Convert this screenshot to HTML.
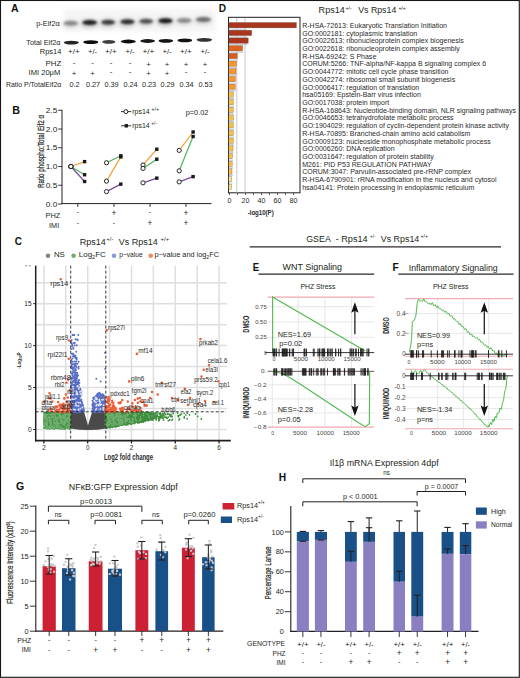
<!DOCTYPE html>
<html><head><meta charset="utf-8"><style>
html,body{margin:0;padding:0;background:#fff;overflow:hidden;}
svg{display:block;}
text{font-family:"Liberation Sans", sans-serif;}
</style></head><body>
<svg width="520" height="678" viewBox="0 0 520 678">
<defs>
<filter id="blur1" x="-50%" y="-200%" width="200%" height="500%"><feGaussianBlur stdDeviation="1.2"/></filter>
<filter id="blur2" x="-50%" y="-200%" width="200%" height="500%"><feGaussianBlur stdDeviation="2.2"/></filter>
<filter id="blur05"><feGaussianBlur stdDeviation="0.5"/></filter>
</defs>
<rect x="0" y="0" width="520" height="678" fill="#fff"/>
<text x="11" y="12.3" font-size="11" font-weight="bold" textLength="7.6" lengthAdjust="spacingAndGlyphs" fill="#111">A</text>
<rect x="64" y="9" width="152" height="23" fill="#ededed" filter="url(#blur2)" opacity="0.55"/>
<ellipse cx="70.25" cy="24.0" rx="8.75" ry="4.2" fill="#000" opacity="0.10" filter="url(#blur2)"/>
<ellipse cx="70.75" cy="23.2" rx="7.25" ry="2.5" fill="#000" opacity="0.36" filter="url(#blur1)"/>
<ellipse cx="89.25" cy="23.400000000000002" rx="8.75" ry="4.2" fill="#000" opacity="0.24" filter="url(#blur2)"/>
<ellipse cx="89.75" cy="22.6" rx="7.25" ry="2.5" fill="#000" opacity="0.82" filter="url(#blur1)"/>
<ellipse cx="107.75" cy="23.0" rx="8.25" ry="4.2" fill="#000" opacity="0.20" filter="url(#blur2)"/>
<ellipse cx="108.25" cy="22.2" rx="6.75" ry="2.5" fill="#000" opacity="0.68" filter="url(#blur1)"/>
<ellipse cx="127.0" cy="22.6" rx="8.5" ry="4.2" fill="#000" opacity="0.22" filter="url(#blur2)"/>
<ellipse cx="127.5" cy="21.8" rx="7.0" ry="2.5" fill="#000" opacity="0.75" filter="url(#blur1)"/>
<ellipse cx="145.75" cy="22.1" rx="8.25" ry="4.2" fill="#000" opacity="0.17" filter="url(#blur2)"/>
<ellipse cx="146.25" cy="21.3" rx="6.75" ry="2.5" fill="#000" opacity="0.59" filter="url(#blur1)"/>
<ellipse cx="165.0" cy="21.6" rx="8.5" ry="4.2" fill="#000" opacity="0.25" filter="url(#blur2)"/>
<ellipse cx="165.5" cy="20.8" rx="7.0" ry="2.5" fill="#000" opacity="0.85" filter="url(#blur1)"/>
<ellipse cx="183.75" cy="21.3" rx="8.75" ry="4.2" fill="#000" opacity="0.10" filter="url(#blur2)"/>
<ellipse cx="184.25" cy="20.5" rx="7.25" ry="2.5" fill="#000" opacity="0.36" filter="url(#blur1)"/>
<ellipse cx="203.0" cy="20.400000000000002" rx="9.0" ry="4.2" fill="#000" opacity="0.14" filter="url(#blur2)"/>
<ellipse cx="203.5" cy="19.6" rx="7.5" ry="2.5" fill="#000" opacity="0.47" filter="url(#blur1)"/>
<ellipse cx="71.3" cy="42.6" rx="7.5" ry="1.9" fill="#000" opacity="0.85" filter="url(#blur05)"/>
<ellipse cx="90.8" cy="42.2" rx="7.5" ry="1.9" fill="#000" opacity="0.95" filter="url(#blur05)"/>
<ellipse cx="108.8" cy="41.9" rx="6.5" ry="1.9" fill="#000" opacity="0.75" filter="url(#blur05)"/>
<ellipse cx="128.3" cy="41.5" rx="7.5" ry="1.9" fill="#000" opacity="0.95" filter="url(#blur05)"/>
<ellipse cx="147.65" cy="41" rx="7.349999999999994" ry="1.9" fill="#000" opacity="0.9" filter="url(#blur05)"/>
<ellipse cx="165.85000000000002" cy="40.8" rx="7.3500000000000085" ry="1.9" fill="#000" opacity="0.92" filter="url(#blur05)"/>
<ellipse cx="184.85000000000002" cy="40.4" rx="7.3500000000000085" ry="1.9" fill="#000" opacity="0.92" filter="url(#blur05)"/>
<ellipse cx="204.35000000000002" cy="39.8" rx="7.75" ry="1.9" fill="#000" opacity="0.8" filter="url(#blur05)"/>
<text x="59.8" y="26.2" font-size="7.4" text-anchor="end" textLength="23.6" lengthAdjust="spacingAndGlyphs" fill="#231f20">p-Eif2α</text>
<text x="60.4" y="44.6" font-size="7.3" text-anchor="end" textLength="34.1" lengthAdjust="spacingAndGlyphs" fill="#231f20">Total Eif2α</text>
<text x="61.3" y="53.9" font-size="7.3" text-anchor="end" textLength="21.5" lengthAdjust="spacingAndGlyphs" fill="#231f20">Rps14</text>
<text x="61.3" y="65.7" font-size="7.6" text-anchor="end" textLength="15.8" lengthAdjust="spacingAndGlyphs" fill="#231f20">PHZ</text>
<text x="60.3" y="74.6" font-size="7.3" text-anchor="end" textLength="31.7" lengthAdjust="spacingAndGlyphs" fill="#231f20">IMI 20μM</text>
<text x="61.3" y="87.3" font-size="7.1" text-anchor="end" textLength="55.4" lengthAdjust="spacingAndGlyphs" fill="#231f20">Ratio P/TotalEif2α</text>
<text x="74" y="54.2" font-size="7.6" text-anchor="middle" textLength="11.8" lengthAdjust="spacingAndGlyphs" fill="#231f20">+/+</text>
<text x="74" y="65.0" font-size="7.8" text-anchor="middle" fill="#231f20">-</text>
<text x="74" y="75.8" font-size="7.8" text-anchor="middle" fill="#231f20">+</text>
<text x="74.5" y="87.4" font-size="7.3" text-anchor="middle" fill="#231f20">0.2</text>
<text x="92.5" y="54.2" font-size="7.6" text-anchor="middle" textLength="9.2" lengthAdjust="spacingAndGlyphs" fill="#231f20">+/-</text>
<text x="92.5" y="65.0" font-size="7.8" text-anchor="middle" fill="#231f20">-</text>
<text x="92.5" y="75.8" font-size="7.8" text-anchor="middle" fill="#231f20">+</text>
<text x="93.0" y="87.4" font-size="7.3" text-anchor="middle" fill="#231f20">0.27</text>
<text x="111" y="54.2" font-size="7.6" text-anchor="middle" textLength="11.8" lengthAdjust="spacingAndGlyphs" fill="#231f20">+/+</text>
<text x="111" y="65.0" font-size="7.8" text-anchor="middle" fill="#231f20">-</text>
<text x="111" y="74.2" font-size="7.8" text-anchor="middle" fill="#231f20">-</text>
<text x="111.5" y="87.4" font-size="7.3" text-anchor="middle" fill="#231f20">0.39</text>
<text x="130" y="54.2" font-size="7.6" text-anchor="middle" textLength="9.2" lengthAdjust="spacingAndGlyphs" fill="#231f20">+/-</text>
<text x="130" y="65.0" font-size="7.8" text-anchor="middle" fill="#231f20">-</text>
<text x="130" y="74.2" font-size="7.8" text-anchor="middle" fill="#231f20">-</text>
<text x="130.5" y="87.4" font-size="7.3" text-anchor="middle" fill="#231f20">0.24</text>
<text x="148.5" y="54.2" font-size="7.6" text-anchor="middle" textLength="11.8" lengthAdjust="spacingAndGlyphs" fill="#231f20">+/+</text>
<text x="148.5" y="66.6" font-size="7.8" text-anchor="middle" fill="#231f20">+</text>
<text x="148.5" y="75.8" font-size="7.8" text-anchor="middle" fill="#231f20">+</text>
<text x="149.0" y="87.4" font-size="7.3" text-anchor="middle" fill="#231f20">0.23</text>
<text x="167" y="54.2" font-size="7.6" text-anchor="middle" textLength="9.2" lengthAdjust="spacingAndGlyphs" fill="#231f20">+/-</text>
<text x="167" y="66.6" font-size="7.8" text-anchor="middle" fill="#231f20">+</text>
<text x="167" y="75.8" font-size="7.8" text-anchor="middle" fill="#231f20">+</text>
<text x="167.5" y="87.4" font-size="7.3" text-anchor="middle" fill="#231f20">0.29</text>
<text x="186" y="54.2" font-size="7.6" text-anchor="middle" textLength="11.8" lengthAdjust="spacingAndGlyphs" fill="#231f20">+/+</text>
<text x="186" y="66.6" font-size="7.8" text-anchor="middle" fill="#231f20">+</text>
<text x="186" y="74.2" font-size="7.8" text-anchor="middle" fill="#231f20">-</text>
<text x="186.5" y="87.4" font-size="7.3" text-anchor="middle" fill="#231f20">0.34</text>
<text x="205" y="54.2" font-size="7.6" text-anchor="middle" textLength="9.2" lengthAdjust="spacingAndGlyphs" fill="#231f20">+/-</text>
<text x="205" y="66.6" font-size="7.8" text-anchor="middle" fill="#231f20">+</text>
<text x="205" y="74.2" font-size="7.8" text-anchor="middle" fill="#231f20">-</text>
<text x="205.5" y="87.4" font-size="7.3" text-anchor="middle" fill="#231f20">0.53</text>
<text x="12.3" y="113.6" font-size="10.5" font-weight="bold" textLength="7.8" lengthAdjust="spacingAndGlyphs" fill="#111">B</text>
<line x1="62" y1="109.8" x2="62" y2="204" stroke="#231f20" stroke-width="1"/>
<line x1="61.5" y1="203.6" x2="211.5" y2="203.6" stroke="#231f20" stroke-width="1"/>
<line x1="58.2" y1="204.0" x2="62" y2="204.0" stroke="#231f20" stroke-width="0.9"/>
<text x="57.3" y="206.5" font-size="7" text-anchor="end" textLength="11.6" lengthAdjust="spacingAndGlyphs" fill="#231f20">0.0</text>
<line x1="58.2" y1="185.25" x2="62" y2="185.25" stroke="#231f20" stroke-width="0.9"/>
<text x="57.3" y="187.75" font-size="7" text-anchor="end" textLength="11.6" lengthAdjust="spacingAndGlyphs" fill="#231f20">0.5</text>
<line x1="58.2" y1="166.5" x2="62" y2="166.5" stroke="#231f20" stroke-width="0.9"/>
<text x="57.3" y="169.0" font-size="7" text-anchor="end" textLength="11.6" lengthAdjust="spacingAndGlyphs" fill="#231f20">1.0</text>
<line x1="58.2" y1="147.75" x2="62" y2="147.75" stroke="#231f20" stroke-width="0.9"/>
<text x="57.3" y="150.25" font-size="7" text-anchor="end" textLength="11.6" lengthAdjust="spacingAndGlyphs" fill="#231f20">1.5</text>
<line x1="58.2" y1="129.0" x2="62" y2="129.0" stroke="#231f20" stroke-width="0.9"/>
<text x="57.3" y="131.5" font-size="7" text-anchor="end" textLength="11.6" lengthAdjust="spacingAndGlyphs" fill="#231f20">2.0</text>
<line x1="58.2" y1="110.25" x2="62" y2="110.25" stroke="#231f20" stroke-width="0.9"/>
<text x="57.3" y="112.75" font-size="7" text-anchor="end" textLength="11.6" lengthAdjust="spacingAndGlyphs" fill="#231f20">2.5</text>
<line x1="77.8" y1="203.6" x2="77.8" y2="207" stroke="#231f20" stroke-width="0.9"/>
<line x1="114" y1="203.6" x2="114" y2="207" stroke="#231f20" stroke-width="0.9"/>
<line x1="150" y1="203.6" x2="150" y2="207" stroke="#231f20" stroke-width="0.9"/>
<line x1="186" y1="203.6" x2="186" y2="207" stroke="#231f20" stroke-width="0.9"/>
<text transform="translate(43.6,151.5) rotate(-90)" font-size="8.6" text-anchor="middle" fill="#231f20" stroke="#231f20" stroke-width="0.2" textLength="73" lengthAdjust="spacingAndGlyphs">Ratio phospho:Total Eif2 α</text>
<line x1="70.9" y1="166.5" x2="84.6" y2="161.62" stroke="#f5a03a" stroke-width="1.2"/>
<line x1="70.9" y1="166.5" x2="84.6" y2="174.75" stroke="#4fb35a" stroke-width="1.2"/>
<line x1="70.9" y1="166.5" x2="84.6" y2="181.5" stroke="#7a4a9e" stroke-width="1.2"/>
<line x1="106.5" y1="181.12" x2="120.8" y2="156.9" stroke="#f5a03a" stroke-width="1.2"/>
<line x1="106.5" y1="162.75" x2="120.8" y2="155.81" stroke="#4fb35a" stroke-width="1.2"/>
<line x1="106.5" y1="191.62" x2="120.8" y2="184.12" stroke="#7a4a9e" stroke-width="1.2"/>
<line x1="143" y1="165.0" x2="156.8" y2="149.25" stroke="#f5a03a" stroke-width="1.2"/>
<line x1="143" y1="168.38" x2="156.8" y2="159.19" stroke="#4fb35a" stroke-width="1.2"/>
<line x1="143" y1="182.81" x2="156.8" y2="178.12" stroke="#7a4a9e" stroke-width="1.2"/>
<line x1="179.2" y1="150.38" x2="193.1" y2="132.0" stroke="#f5a03a" stroke-width="1.2"/>
<line x1="179.2" y1="170.81" x2="193.1" y2="136.5" stroke="#4fb35a" stroke-width="1.2"/>
<line x1="179.2" y1="181.88" x2="193.1" y2="176.62" stroke="#7a4a9e" stroke-width="1.2"/>
<circle cx="70.9" cy="166.50" r="2.1" fill="#fff" stroke="#1a1a1a" stroke-width="0.95"/>
<rect x="82.89999999999999" y="159.93" width="3.4" height="3.4" fill="#1a1a1a"/>
<circle cx="70.9" cy="166.50" r="2.1" fill="#fff" stroke="#1a1a1a" stroke-width="0.95"/>
<rect x="82.89999999999999" y="173.05" width="3.4" height="3.4" fill="#1a1a1a"/>
<circle cx="70.9" cy="166.50" r="2.1" fill="#fff" stroke="#1a1a1a" stroke-width="0.95"/>
<rect x="82.89999999999999" y="179.80" width="3.4" height="3.4" fill="#1a1a1a"/>
<circle cx="106.5" cy="181.12" r="2.1" fill="#fff" stroke="#1a1a1a" stroke-width="0.95"/>
<rect x="119.1" y="155.20" width="3.4" height="3.4" fill="#1a1a1a"/>
<circle cx="106.5" cy="162.75" r="2.1" fill="#fff" stroke="#1a1a1a" stroke-width="0.95"/>
<rect x="119.1" y="154.11" width="3.4" height="3.4" fill="#1a1a1a"/>
<circle cx="106.5" cy="191.62" r="2.1" fill="#fff" stroke="#1a1a1a" stroke-width="0.95"/>
<rect x="119.1" y="182.43" width="3.4" height="3.4" fill="#1a1a1a"/>
<circle cx="143" cy="165.00" r="2.1" fill="#fff" stroke="#1a1a1a" stroke-width="0.95"/>
<rect x="155.10000000000002" y="147.55" width="3.4" height="3.4" fill="#1a1a1a"/>
<circle cx="143" cy="168.38" r="2.1" fill="#fff" stroke="#1a1a1a" stroke-width="0.95"/>
<rect x="155.10000000000002" y="157.49" width="3.4" height="3.4" fill="#1a1a1a"/>
<circle cx="143" cy="182.81" r="2.1" fill="#fff" stroke="#1a1a1a" stroke-width="0.95"/>
<rect x="155.10000000000002" y="176.43" width="3.4" height="3.4" fill="#1a1a1a"/>
<circle cx="179.2" cy="150.38" r="2.1" fill="#fff" stroke="#1a1a1a" stroke-width="0.95"/>
<rect x="191.4" y="130.30" width="3.4" height="3.4" fill="#1a1a1a"/>
<circle cx="179.2" cy="170.81" r="2.1" fill="#fff" stroke="#1a1a1a" stroke-width="0.95"/>
<rect x="191.4" y="134.80" width="3.4" height="3.4" fill="#1a1a1a"/>
<circle cx="179.2" cy="181.88" r="2.1" fill="#fff" stroke="#1a1a1a" stroke-width="0.95"/>
<rect x="191.4" y="174.93" width="3.4" height="3.4" fill="#1a1a1a"/>
<line x1="121" y1="111.6" x2="131.2" y2="111.6" stroke="#231f20" stroke-width="0.9"/>
<circle cx="125.9" cy="111.6" r="2.0" fill="#fff" stroke="#1a1a1a" stroke-width="0.95"/>
<text x="132.2" y="114" font-size="7" textLength="17.6" lengthAdjust="spacingAndGlyphs" fill="#231f20">rps14</text>
<text x="151.3" y="110.8" font-size="4.5" textLength="7.7" lengthAdjust="spacingAndGlyphs" fill="#231f20">+/+</text>
<line x1="121" y1="125.8" x2="131.2" y2="125.8" stroke="#231f20" stroke-width="0.9"/>
<rect x="124.6" y="124.1" width="3.4" height="3.4" fill="#1a1a1a"/>
<text x="132.2" y="128.2" font-size="7" textLength="17.6" lengthAdjust="spacingAndGlyphs" fill="#231f20">rps14</text>
<text x="151.3" y="124.8" font-size="4.5" textLength="5.7" lengthAdjust="spacingAndGlyphs" fill="#231f20">+/-</text>
<text x="185.7" y="114.6" font-size="7" textLength="22.7" lengthAdjust="spacingAndGlyphs" fill="#231f20">p=0.02</text>
<text x="60.3" y="218" font-size="7" text-anchor="end" textLength="14.8" lengthAdjust="spacingAndGlyphs" fill="#231f20">PHZ</text>
<text x="59.2" y="227.6" font-size="7" text-anchor="end" textLength="10.2" lengthAdjust="spacingAndGlyphs" fill="#231f20">IMI</text>
<text x="77.8" y="214.4" font-size="7" text-anchor="middle" fill="#231f20">-</text>
<text x="77.8" y="224.6" font-size="7" text-anchor="middle" fill="#231f20">-</text>
<text x="114" y="215.8" font-size="8.2" text-anchor="middle" fill="#231f20">+</text>
<text x="114" y="224.6" font-size="7" text-anchor="middle" fill="#231f20">-</text>
<text x="150" y="214.4" font-size="7" text-anchor="middle" fill="#231f20">-</text>
<text x="150" y="226.0" font-size="8.2" text-anchor="middle" fill="#231f20">+</text>
<text x="186" y="215.8" font-size="8.2" text-anchor="middle" fill="#231f20">+</text>
<text x="186" y="226.0" font-size="8.2" text-anchor="middle" fill="#231f20">+</text>
<text x="14.8" y="244.6" font-size="11.4" font-weight="bold" textLength="7.2" lengthAdjust="spacingAndGlyphs" fill="#111">C</text>
<text x="79.8" y="245.1" font-size="8.9" textLength="26" lengthAdjust="spacingAndGlyphs" fill="#231f20">Rps14</text>
<text x="106.3" y="241.2" font-size="4.6" textLength="7.2" lengthAdjust="spacingAndGlyphs" fill="#231f20">+/-</text>
<text x="118.8" y="245.1" font-size="8.9" textLength="38.9" lengthAdjust="spacingAndGlyphs" fill="#231f20">Vs Rps14</text>
<text x="160.6" y="241.2" font-size="4.6" textLength="8.6" lengthAdjust="spacingAndGlyphs" fill="#231f20">+/+</text>
<circle cx="48" cy="255.7" r="2.3" fill="#858585"/>
<text x="53.9" y="257.3" font-size="7.2" textLength="10.9" lengthAdjust="spacingAndGlyphs" fill="#231f20">NS</text>
<circle cx="73.6" cy="255.7" r="2.3" fill="#6fae6f"/>
<text x="78.8" y="257.3" font-size="7.2" textLength="27" lengthAdjust="spacingAndGlyphs" fill="#231f20">Log<tspan font-size="5" dy="1.5">2</tspan><tspan dy="-1.5">FC</tspan></text>
<circle cx="114" cy="255.7" r="2.3" fill="#8a9be0"/>
<text x="119.2" y="257.3" font-size="7.2" textLength="23.5" lengthAdjust="spacingAndGlyphs" fill="#231f20">p−value</text>
<circle cx="150.7" cy="255.7" r="2.3" fill="#f08a60"/>
<text x="154.4" y="257.3" font-size="7.2" textLength="64.6" lengthAdjust="spacingAndGlyphs" fill="#231f20">p−value and log<tspan font-size="5" dy="1.5">2</tspan><tspan dy="-1.5">FC</tspan></text>
<line x1="43.900000000000006" y1="265.6" x2="43.900000000000006" y2="440.6" stroke="#dedede" stroke-width="1.5"/>
<line x1="65.80000000000001" y1="265.6" x2="65.80000000000001" y2="440.6" stroke="#dedede" stroke-width="1.5"/>
<line x1="87.7" y1="265.6" x2="87.7" y2="440.6" stroke="#dedede" stroke-width="1.5"/>
<line x1="109.6" y1="265.6" x2="109.6" y2="440.6" stroke="#dedede" stroke-width="1.5"/>
<line x1="131.5" y1="265.6" x2="131.5" y2="440.6" stroke="#dedede" stroke-width="1.5"/>
<line x1="153.39999999999998" y1="265.6" x2="153.39999999999998" y2="440.6" stroke="#dedede" stroke-width="1.5"/>
<line x1="175.3" y1="265.6" x2="175.3" y2="440.6" stroke="#dedede" stroke-width="1.5"/>
<line x1="197.2" y1="265.6" x2="197.2" y2="440.6" stroke="#dedede" stroke-width="1.5"/>
<line x1="219.09999999999997" y1="265.6" x2="219.09999999999997" y2="440.6" stroke="#dedede" stroke-width="1.5"/>
<line x1="35.7" y1="429.5" x2="227" y2="429.5" stroke="#dedede" stroke-width="1.5"/>
<line x1="35.7" y1="408.525" x2="227" y2="408.525" stroke="#dedede" stroke-width="1.5"/>
<line x1="35.7" y1="387.55" x2="227" y2="387.55" stroke="#dedede" stroke-width="1.5"/>
<line x1="35.7" y1="366.575" x2="227" y2="366.575" stroke="#dedede" stroke-width="1.5"/>
<line x1="35.7" y1="345.6" x2="227" y2="345.6" stroke="#dedede" stroke-width="1.5"/>
<line x1="35.7" y1="324.625" x2="227" y2="324.625" stroke="#dedede" stroke-width="1.5"/>
<line x1="35.7" y1="303.65" x2="227" y2="303.65" stroke="#dedede" stroke-width="1.5"/>
<line x1="35.7" y1="282.67499999999995" x2="227" y2="282.67499999999995" stroke="#dedede" stroke-width="1.5"/>
<line x1="35.7" y1="265.6" x2="35.7" y2="441.40000000000003" stroke="#231f20" stroke-width="1.5"/>
<line x1="34.95" y1="440.6" x2="230.8" y2="440.6" stroke="#231f20" stroke-width="1.7"/>
<line x1="33.2" y1="429.5" x2="35.7" y2="429.5" stroke="#231f20" stroke-width="1.0"/>
<text x="31.700000000000003" y="431.9" font-size="6.6" text-anchor="end" fill="#231f20">0</text>
<line x1="33.2" y1="387.55" x2="35.7" y2="387.55" stroke="#231f20" stroke-width="1.0"/>
<text x="31.700000000000003" y="389.95" font-size="6.6" text-anchor="end" fill="#231f20">5</text>
<line x1="33.2" y1="345.6" x2="35.7" y2="345.6" stroke="#231f20" stroke-width="1.0"/>
<text x="31.700000000000003" y="348.0" font-size="6.6" text-anchor="end" fill="#231f20">10</text>
<line x1="33.2" y1="303.65" x2="35.7" y2="303.65" stroke="#231f20" stroke-width="1.0"/>
<text x="31.700000000000003" y="306.04999999999995" font-size="6.6" text-anchor="end" fill="#231f20">15</text>
<rect x="25" y="265.2" width="2.2" height="1" fill="#999"/>
<rect x="28.5" y="265.2" width="2.2" height="1" fill="#999"/>
<line x1="43.900000000000006" y1="440.6" x2="43.900000000000006" y2="443.40000000000003" stroke="#231f20" stroke-width="1.3"/>
<text x="43.900000000000006" y="450" font-size="6.3" text-anchor="middle" fill="#231f20">2</text>
<line x1="87.7" y1="440.6" x2="87.7" y2="443.40000000000003" stroke="#231f20" stroke-width="1.3"/>
<text x="87.7" y="450" font-size="6.3" text-anchor="middle" fill="#231f20">0</text>
<line x1="131.5" y1="440.6" x2="131.5" y2="443.40000000000003" stroke="#231f20" stroke-width="1.3"/>
<text x="131.5" y="450" font-size="6.3" text-anchor="middle" fill="#231f20">2</text>
<line x1="175.3" y1="440.6" x2="175.3" y2="443.40000000000003" stroke="#231f20" stroke-width="1.3"/>
<text x="175.3" y="450" font-size="6.3" text-anchor="middle" fill="#231f20">4</text>
<line x1="219.09999999999997" y1="440.6" x2="219.09999999999997" y2="443.40000000000003" stroke="#231f20" stroke-width="1.3"/>
<text x="219.09999999999997" y="450" font-size="6.3" text-anchor="middle" fill="#231f20">6</text>
<text x="104" y="460.4" font-size="8.2" font-weight="bold" textLength="49" lengthAdjust="spacingAndGlyphs" fill="#2a2a2a">Log2 fold change</text>
<text transform="translate(21.2,360.6) rotate(-90)" font-size="6" font-weight="bold" text-anchor="middle" fill="#2a2a2a" textLength="16.4" lengthAdjust="spacingAndGlyphs">-Log<tspan font-size="4" dy="1">10</tspan><tspan dy="-1">P</tspan></text>
<path d="M70.7 411.8 L84 411.8 Q86.5 420 88 425.4 Q89.5 420 92.2 411.8 L105.8 411.8 L105.8 428.5 Q88 431.5 70.7 428.5 Z" fill="#4a4a4a"/>
<path d="M43.5 411.8 L70.7 411.8 L70.7 428 Q56 427.5 43.5 426 Z" fill="#3e8e3e"/>
<path d="M105.8 411.8 L150 411.8 Q156 415 155 419 Q135 423 105.8 428.2 Z" fill="#3e8e3e"/>
<path d="M48.2 417.8h0M60.6 421.2h0M49.6 416.1h0M65.1 420.7h0M57.2 425.2h0M44.0 423.0h0M59.3 427.9h0M64.8 425.3h0M50.0 428.4h0M70.1 417.0h0M66.9 419.0h0M44.8 423.7h0M57.0 427.2h0M68.9 423.1h0M48.0 415.7h0M47.2 413.9h0M55.8 420.0h0M52.9 421.2h0M48.8 428.5h0M66.7 425.2h0M64.4 425.7h0M69.4 414.5h0M63.7 416.6h0M59.2 417.1h0M47.1 421.3h0M65.6 425.8h0M68.2 414.6h0M54.7 423.1h0M55.8 422.8h0M70.0 422.8h0M44.6 427.6h0M62.8 412.8h0M56.9 421.0h0M58.4 416.8h0M49.7 419.1h0M58.5 418.9h0M48.6 426.3h0M53.1 413.9h0M53.0 419.3h0M52.0 427.4h0M45.6 415.8h0M64.3 422.9h0M61.9 418.0h0M67.5 413.4h0M54.6 412.9h0M69.2 419.4h0M67.1 421.0h0M53.8 425.0h0M66.9 426.4h0M45.7 415.9h0M64.2 421.2h0M65.9 428.2h0M50.7 424.3h0M54.9 426.3h0M45.7 423.5h0M67.5 413.0h0M63.5 421.2h0M50.5 413.4h0M57.7 417.2h0M44.6 425.6h0M65.9 416.1h0M67.1 419.2h0M55.1 419.6h0M66.2 424.0h0M57.9 424.6h0M64.1 428.9h0M61.9 413.5h0M44.5 419.4h0M60.8 415.1h0M59.3 424.9h0M54.6 413.4h0M67.7 426.9h0M46.4 427.5h0M44.6 421.8h0M47.6 414.9h0M61.1 427.0h0M58.1 423.8h0M56.9 425.5h0M48.3 426.1h0M53.8 417.5h0M58.4 428.3h0M62.6 414.8h0M64.2 416.1h0M44.1 421.5h0M45.6 416.6h0M48.5 417.4h0M50.5 417.7h0M52.1 428.4h0M54.1 424.0h0M67.6 424.3h0M57.1 420.1h0M68.8 427.5h0M59.7 420.8h0M63.2 413.3h0M52.1 417.6h0M57.7 419.9h0M45.6 415.8h0M69.6 423.3h0M52.3 412.8h0M46.7 427.8h0M45.8 415.8h0M63.9 421.8h0M60.2 428.8h0M60.8 421.8h0M57.5 422.7h0M54.5 425.4h0M45.2 422.0h0M50.4 417.6h0M65.4 417.2h0M55.9 425.2h0M54.0 421.1h0M60.5 413.3h0M46.1 421.2h0M56.8 417.3h0M67.3 416.3h0M60.4 416.7h0M61.5 415.0h0M62.3 417.9h0M50.3 414.1h0M54.0 419.0h0M65.6 413.3h0M69.9 429.0h0M52.1 424.0h0M54.2 426.7h0M58.4 427.8h0M51.9 413.6h0M63.4 421.5h0M46.7 413.4h0M62.4 425.7h0M52.7 418.6h0M61.8 424.8h0M68.9 423.8h0M50.6 415.2h0M47.9 417.9h0M49.2 419.3h0M51.2 422.9h0M68.6 421.4h0M55.4 419.0h0M51.3 426.2h0M54.0 424.6h0M48.9 413.4h0M44.8 415.8h0M68.5 417.6h0M44.4 420.9h0M44.9 419.1h0M62.3 425.2h0M44.1 420.2h0M46.4 424.0h0M55.8 414.4h0M53.6 426.9h0M64.7 415.6h0M57.8 428.3h0M48.8 422.5h0M58.4 425.4h0M65.0 415.3h0M68.2 414.6h0M44.4 419.6h0M46.0 414.4h0M63.5 416.7h0M48.8 428.1h0M65.3 419.2h0M60.2 421.4h0M64.9 423.6h0M51.0 423.3h0M51.7 418.8h0M67.3 427.9h0M45.7 420.7h0M61.7 426.0h0M51.0 428.1h0M44.9 421.0h0M61.8 418.4h0M48.1 427.4h0M68.4 420.3h0M54.6 417.8h0M63.0 420.5h0M46.0 415.5h0M49.5 428.4h0M53.2 420.4h0M60.4 426.2h0M62.5 421.0h0M48.2 415.2h0M65.1 414.3h0M61.8 425.5h0M64.3 414.3h0M57.9 414.2h0M69.4 422.7h0M68.7 413.8h0M64.8 428.9h0M53.1 419.0h0M59.9 416.7h0M60.9 426.4h0M68.4 420.3h0M67.1 425.7h0M70.1 420.0h0M64.3 417.0h0M67.1 423.2h0M46.1 422.4h0M48.6 420.2h0M65.3 423.2h0M47.3 428.6h0M55.0 419.6h0M44.6 418.2h0M49.4 427.3h0M68.3 420.5h0M67.4 420.7h0M47.1 425.2h0M55.0 418.6h0M64.2 416.8h0M61.0 424.9h0M55.2 422.9h0M56.8 424.7h0M58.0 421.6h0M44.8 415.6h0M59.3 415.9h0M63.3 417.1h0M70.0 422.9h0M54.2 429.0h0M61.4 419.6h0M59.0 412.8h0M49.1 425.4h0M63.2 415.8h0M56.6 428.2h0M53.6 415.6h0M57.0 421.5h0M54.1 418.8h0M59.6 417.7h0M66.6 416.8h0M53.8 425.0h0M64.4 416.1h0M68.3 425.8h0M66.2 414.5h0M45.9 424.0h0M60.6 426.7h0M65.7 424.7h0M61.8 424.2h0M49.6 425.7h0M57.0 417.4h0M49.6 417.9h0M52.7 418.5h0M53.6 425.9h0M47.6 428.1h0M62.2 422.3h0M47.1 414.7h0M61.1 428.7h0M62.9 419.4h0M55.6 420.9h0M69.2 423.0h0M60.6 418.7h0M53.5 423.4h0M63.7 418.7h0M55.9 420.7h0M49.8 416.2h0M44.4 418.6h0M55.9 425.5h0M59.3 419.5h0M46.2 421.1h0M48.2 416.0h0M52.5 423.7h0M49.6 428.3h0M48.8 426.6h0M60.3 415.2h0M49.7 427.3h0M57.9 427.2h0M54.5 416.6h0M49.2 417.6h0M58.1 427.7h0M50.3 419.3h0M46.4 425.7h0M59.1 415.7h0M57.6 418.2h0M44.1 424.1h0M52.3 414.1h0M53.3 416.2h0M44.8 420.9h0M67.3 416.5h0M59.1 426.1h0M68.2 427.8h0M69.3 416.4h0M62.8 420.4h0M48.2 423.5h0M61.3 418.3h0M54.1 416.0h0M45.3 424.4h0M46.3 423.8h0M64.7 416.8h0M47.8 424.0h0M46.8 418.3h0M55.5 425.3h0M53.7 414.9h0M55.1 417.8h0M60.4 421.3h0M58.5 423.1h0M49.1 421.0h0M51.9 423.7h0M48.8 414.1h0M55.1 425.8h0M44.7 425.6h0M66.7 423.6h0M61.4 425.3h0M61.0 421.7h0M63.3 420.4h0M53.8 424.5h0M59.5 415.5h0M62.1 421.2h0M52.5 414.5h0M66.1 426.7h0M61.8 416.4h0M61.7 413.3h0M67.0 425.1h0M70.1 423.7h0M53.9 413.1h0M48.3 422.6h0M60.3 424.6h0M50.9 416.1h0M60.0 416.9h0M64.7 414.8h0M67.4 415.6h0M69.6 420.9h0M62.3 420.7h0M69.4 418.4h0M55.2 418.2h0M51.6 427.0h0M54.1 426.8h0M44.0 427.6h0M55.8 416.6h0M45.2 418.7h0M46.8 420.7h0M51.7 421.8h0M62.6 422.3h0M54.2 417.2h0M46.9 423.4h0M62.3 415.4h0M69.6 424.9h0M60.3 424.0h0M62.3 415.2h0M47.4 423.4h0M68.5 423.3h0M60.5 415.7h0M51.2 416.3h0M44.0 423.5h0M48.3 423.4h0M49.5 428.7h0M65.0 426.2h0M59.0 420.0h0M66.2 415.2h0M60.2 426.3h0M63.9 427.5h0M68.3 424.0h0M50.5 425.5h0M54.3 416.1h0M66.4 416.9h0M63.1 425.1h0M52.3 424.1h0M55.3 414.8h0M70.1 427.7h0M69.2 414.1h0M56.0 417.7h0M64.5 426.0h0M60.1 413.0h0M67.0 414.2h0M46.1 417.4h0M56.7 414.2h0M48.3 420.1h0M47.1 415.9h0M62.9 428.6h0M52.0 426.8h0M60.6 418.8h0M45.5 413.5h0M69.3 421.9h0M59.0 423.1h0M59.8 422.6h0M55.5 416.8h0M48.8 424.2h0M64.0 425.4h0M45.7 414.2h0M48.1 422.4h0M52.1 424.8h0M53.2 420.3h0M46.9 420.4h0M45.2 427.8h0M49.2 425.1h0M52.9 424.3h0M65.9 418.3h0M56.3 416.5h0M61.9 423.9h0M60.1 416.9h0M57.9 416.8h0M60.5 413.9h0M50.8 418.1h0M69.6 420.4h0M67.7 427.5h0M62.9 424.7h0M63.6 422.2h0M58.0 425.0h0M50.7 414.9h0M60.8 418.8h0M46.9 424.3h0M69.3 425.8h0M58.0 417.7h0M57.3 420.0h0M69.4 416.3h0M50.1 422.0h0M54.9 417.9h0M61.6 424.8h0M62.1 422.0h0M44.3 424.3h0M53.8 425.9h0M61.5 412.8h0M68.4 418.8h0M66.4 421.0h0M59.3 414.5h0M45.5 423.2h0M53.7 423.5h0M55.1 428.1h0M61.7 413.4h0M50.1 426.0h0M52.7 416.0h0M49.9 416.5h0M48.4 419.3h0M62.9 418.1h0M46.1 413.4h0M66.2 421.2h0M66.5 419.2h0M48.3 422.6h0M65.5 421.5h0M45.0 426.4h0M48.8 419.5h0M60.8 421.8h0M54.5 413.3h0M52.9 418.1h0M49.3 420.7h0M48.6 427.2h0M52.7 427.2h0M53.9 418.4h0M58.3 416.1h0M56.4 427.7h0M63.0 422.5h0M63.6 413.1h0M57.7 425.0h0M53.3 420.9h0M52.3 427.4h0M54.4 418.3h0M65.3 416.6h0M67.1 416.0h0M54.7 418.5h0M45.3 416.1h0M62.5 424.7h0M56.3 424.6h0M64.8 422.1h0M64.4 414.0h0M64.3 422.9h0M52.9 413.6h0M67.7 426.0h0M53.4 416.2h0M63.8 424.4h0M55.6 413.3h0M46.3 424.6h0M61.4 414.2h0M68.8 421.4h0M64.7 413.2h0M52.6 425.4h0M50.7 416.3h0M47.6 420.1h0M68.3 425.8h0M60.4 420.4h0M69.3 420.7h0M56.8 414.3h0M63.7 426.7h0M65.0 422.6h0M69.4 413.3h0M56.9 422.3h0M49.9 424.6h0M49.3 426.3h0M63.1 428.2h0M59.6 419.3h0M63.2 419.8h0M68.3 424.5h0M46.3 419.5h0M51.0 412.9h0M68.1 417.8h0M65.8 425.1h0M56.6 422.8h0M53.0 423.0h0M56.5 418.4h0M44.6 420.3h0M47.3 413.2h0M58.4 419.4h0M52.2 417.5h0M62.6 414.2h0M59.2 424.7h0M60.4 428.3h0M63.5 424.1h0M62.8 426.9h0M59.6 426.3h0M44.9 424.8h0M66.2 422.7h0M57.6 416.2h0M69.6 424.8h0M62.1 416.3h0M64.8 423.4h0M150.6 418.8h0M112.6 420.3h0M139.5 420.3h0M143.4 415.9h0M108.4 420.8h0M120.2 417.4h0M145.9 420.2h0M154.5 416.2h0M125.4 413.7h0M107.8 426.0h0M105.7 418.4h0M112.7 417.7h0M115.0 417.9h0M163.7 417.4h0M153.3 418.0h0M123.7 414.4h0M121.8 420.3h0M123.0 413.3h0M113.0 424.3h0M130.0 414.8h0M125.9 420.9h0M151.8 416.3h0M120.0 419.0h0M119.7 417.6h0M129.0 416.9h0M117.8 422.2h0M107.2 418.9h0M108.1 419.3h0M109.9 417.7h0M119.8 420.1h0M154.2 416.3h0M113.0 421.0h0M114.3 414.5h0M117.0 419.4h0M134.3 413.3h0M113.1 413.0h0M123.7 413.5h0M114.4 423.0h0M124.9 419.4h0M107.4 417.8h0M126.9 416.0h0M114.9 422.1h0M123.9 419.9h0M142.2 415.6h0M153.1 416.5h0M110.0 413.1h0M121.5 419.4h0M144.0 416.3h0M112.7 414.4h0M112.5 415.5h0M110.8 419.5h0M157.0 412.8h0M178.0 415.8h0M117.6 421.3h0M149.0 416.7h0M126.2 415.3h0M132.9 415.0h0M133.4 417.2h0M143.3 422.1h0M110.2 423.2h0M138.7 421.2h0M134.7 415.8h0M121.3 416.7h0M113.1 413.8h0M137.9 418.9h0M121.0 417.7h0M109.5 426.7h0M107.5 414.4h0M141.3 421.1h0M107.4 417.6h0M119.4 415.7h0M115.4 414.9h0M139.1 416.3h0M106.9 423.0h0M109.6 418.4h0M127.5 417.2h0M151.3 419.9h0M108.3 425.4h0M121.7 416.4h0M125.9 421.9h0M132.1 420.6h0M115.7 417.8h0M172.3 416.5h0M134.7 413.8h0M124.2 424.4h0M127.3 417.0h0M113.2 416.9h0M128.3 418.3h0M149.1 418.5h0M133.2 418.5h0M109.1 415.0h0M158.8 417.0h0M113.9 419.2h0M117.6 420.6h0M133.2 416.5h0M136.6 414.7h0M121.6 424.5h0M128.5 420.5h0M118.5 424.6h0M145.7 413.5h0M128.3 423.3h0M122.0 419.9h0M118.7 413.0h0M110.9 422.3h0M125.0 420.6h0M113.8 423.2h0M111.4 422.2h0M113.3 418.6h0M128.3 418.9h0M108.2 427.2h0M115.1 416.0h0M131.5 419.2h0M138.2 420.1h0M124.7 418.4h0M117.6 419.1h0M139.5 416.2h0M138.3 412.8h0M138.4 420.6h0M132.5 419.8h0M113.4 420.6h0M162.7 413.9h0M136.2 420.1h0M118.2 417.2h0M117.3 416.8h0M107.3 412.8h0M106.1 423.2h0M133.6 422.7h0M112.8 415.4h0M140.8 413.4h0M111.9 425.7h0M115.3 418.3h0M150.3 417.3h0M127.8 413.4h0M133.9 413.3h0M168.4 417.1h0M141.3 422.2h0M114.7 419.6h0M122.6 419.6h0M133.2 422.3h0M109.9 424.8h0M145.0 420.5h0M132.7 413.1h0M134.6 417.5h0M135.8 414.2h0M111.6 419.3h0M105.6 415.1h0M146.9 417.6h0M131.4 420.0h0M117.2 419.6h0M119.9 413.3h0M143.0 420.5h0M129.5 420.1h0M127.9 424.7h0M117.7 414.5h0M131.8 412.9h0M133.2 420.6h0M108.1 419.8h0M128.6 413.0h0M117.3 414.2h0M120.8 422.3h0M126.1 425.0h0M141.7 422.1h0M108.6 417.4h0M164.0 415.8h0M131.1 422.9h0M124.3 421.3h0M136.1 418.4h0M112.2 423.3h0M107.0 427.9h0M114.8 425.2h0M112.0 416.9h0M106.0 421.3h0M124.3 413.0h0M116.9 415.4h0M128.3 413.7h0M121.0 423.9h0M130.9 417.7h0M131.2 418.1h0M114.9 423.4h0M111.4 422.3h0M107.2 417.2h0M116.2 420.9h0M106.7 413.6h0M131.4 421.4h0M132.7 415.1h0M107.4 426.3h0M132.9 416.9h0M113.4 423.9h0M178.7 415.7h0M125.5 413.1h0M133.3 422.9h0M111.2 420.2h0M106.4 416.6h0M105.5 416.2h0M131.9 422.4h0M128.9 423.4h0M127.1 416.9h0M108.2 420.0h0M112.8 427.3h0M163.8 413.9h0M116.5 418.2h0M160.4 416.2h0M116.2 414.7h0M155.8 413.0h0M155.8 413.5h0M137.1 416.2h0M124.1 421.0h0M135.6 414.7h0M155.1 413.5h0M122.4 415.9h0M112.1 426.2h0M127.9 420.7h0M117.4 415.6h0M123.8 423.9h0M156.8 414.3h0M134.5 421.0h0M112.5 418.3h0M133.3 413.5h0M116.3 415.2h0M106.6 428.1h0M118.5 413.0h0M115.7 420.2h0M143.8 414.4h0M135.5 419.0h0M150.1 418.8h0M116.7 422.4h0M142.7 414.4h0M144.6 418.7h0M112.0 415.2h0M115.5 426.2h0M107.6 421.1h0M110.5 412.8h0M123.3 422.1h0M113.8 417.0h0M115.3 417.1h0M118.0 414.1h0M110.0 421.7h0M113.4 413.7h0M118.6 417.6h0M110.4 416.3h0M112.8 419.3h0M107.6 426.7h0M113.3 413.6h0M109.2 426.4h0M153.4 418.8h0M112.8 421.6h0M114.4 424.3h0M137.8 417.5h0M153.8 413.0h0M106.8 428.0h0M134.2 423.5h0M116.3 413.2h0M113.9 414.5h0M137.3 418.7h0M106.7 421.4h0M120.4 416.4h0M121.7 414.6h0M108.6 422.6h0M124.7 414.9h0M117.1 424.9h0M134.6 416.8h0M162.8 416.2h0M173.2 413.5h0M113.5 424.0h0M135.9 421.9h0M124.5 424.6h0M164.6 416.9h0M126.7 414.9h0M166.0 417.7h0M120.5 424.2h0M170.7 416.6h0M124.1 423.1h0M108.0 426.6h0M116.8 424.4h0M127.5 414.6h0M117.2 424.5h0M142.1 418.7h0M133.1 417.1h0M111.2 413.7h0M117.2 420.5h0M156.4 419.7h0M110.0 423.8h0M147.3 419.5h0M113.5 416.8h0M122.7 423.3h0M144.9 417.8h0M129.0 422.5h0M126.5 419.5h0M146.8 418.1h0M123.3 414.8h0M125.0 420.8h0M128.9 418.9h0M112.3 416.0h0M148.4 417.6h0M131.9 418.9h0M127.6 414.9h0M129.0 422.3h0M109.1 421.1h0M114.1 420.2h0M144.3 413.5h0M107.7 425.1h0M143.0 421.4h0M120.8 418.4h0M109.6 424.8h0M109.6 416.0h0M124.9 420.0h0M137.1 419.1h0M124.0 414.3h0M123.8 415.0h0M116.7 422.0h0M109.3 413.4h0M108.3 425.0h0M140.2 415.4h0M126.2 417.7h0M156.3 419.1h0M115.0 413.5h0M138.2 417.6h0M118.0 418.7h0M130.6 416.2h0M140.4 417.3h0M143.9 420.1h0M131.4 422.3h0M137.3 418.3h0M125.7 423.6h0M133.0 414.2h0M107.3 417.5h0M122.5 414.5h0M162.1 415.6h0M134.5 423.5h0M131.9 413.7h0M146.9 414.9h0M149.5 417.1h0M122.1 425.0h0M109.4 413.9h0M112.5 415.5h0M143.1 417.9h0M130.5 417.8h0M120.6 420.7h0M107.7 427.4h0M118.6 424.2h0M134.1 421.7h0M130.2 414.6h0M120.1 420.1h0M117.0 415.4h0M145.2 414.6h0M113.3 424.8h0M105.2 424.2h0M123.7 419.1h0M135.6 420.3h0M126.5 412.8h0M142.6 415.6h0M130.9 415.0h0M136.5 417.6h0M140.1 417.9h0M144.2 415.4h0M129.5 417.8h0M148.9 419.5h0M140.0 418.2h0M139.8 419.6h0M126.1 413.2h0M116.3 421.5h0M133.4 422.2h0M126.0 419.2h0M111.4 415.3h0M180.0 415.2h0M132.5 421.9h0M143.0 419.4h0M121.4 423.0h0M156.4 414.5h0M164.6 413.0h0M134.5 421.2h0M118.6 415.9h0M107.2 422.5h0M115.0 416.4h0M123.3 423.9h0M125.3 423.1h0M130.0 418.1h0M123.3 416.0h0M152.6 413.3h0M128.7 418.4h0M125.1 422.1h0M129.2 422.5h0M110.5 427.4h0M133.1 419.5h0M109.3 427.6h0M113.6 418.3h0M122.3 418.0h0M152.4 418.8h0M118.7 423.2h0M121.1 421.6h0M113.7 412.9h0M114.8 425.8h0M144.9 415.1h0M112.5 425.8h0M112.7 419.9h0M121.1 419.9h0M115.1 426.9h0M112.2 418.8h0M142.7 421.4h0M111.2 422.1h0M113.3 422.7h0M139.5 422.7h0M158.6 417.6h0M120.4 425.1h0M109.9 419.6h0M122.7 425.0h0M141.9 417.2h0M114.7 418.5h0M106.6 416.7h0M131.4 420.9h0M113.1 420.3h0M120.4 414.1h0M116.1 421.6h0M123.3 421.9h0M105.4 415.3h0M130.3 416.3h0M120.9 422.2h0M133.5 416.2h0M113.0 420.7h0M108.6 425.2h0M123.7 413.3h0M114.4 417.5h0M137.0 419.1h0M119.3 418.6h0M108.6 415.9h0M156.7 416.6h0M129.0 415.4h0M114.0 415.1h0M116.4 414.0h0M110.9 424.4h0M126.0 417.1h0M122.7 424.2h0M147.7 414.6h0M159.2 413.9h0M118.2 423.0h0M125.2 420.6h0M170.9 416.1h0M163.6 415.3h0M159.8 416.3h0M149.3 420.1h0M117.2 420.0h0M113.8 425.8h0M111.3 427.0h0M121.3 416.4h0M148.1 416.3h0M115.4 421.5h0M151.7 415.3h0M127.3 421.7h0M137.4 413.4h0M123.5 416.0h0M179.0 415.5h0M144.3 420.2h0M117.7 419.8h0M107.9 415.6h0M108.5 424.2h0M153.6 414.1h0M117.0 426.0h0M111.3 419.0h0M145.3 418.0h0M110.9 414.1h0M142.6 415.1h0M138.1 419.1h0M111.7 418.8h0M140.2 418.4h0M123.3 418.9h0M131.5 419.2h0M121.2 413.9h0M106.9 419.6h0M132.7 421.8h0M124.8 419.1h0M150.1 413.5h0M111.0 426.6h0M149.5 419.8h0M148.5 420.5h0M111.7 425.7h0M106.7 420.4h0M114.3 424.1h0M139.7 416.1h0M112.6 417.3h0M112.6 413.9h0M112.9 417.3h0M105.5 423.5h0M130.5 423.7h0M119.8 417.7h0M140.6 421.6h0M143.0 416.3h0M111.6 425.9h0M107.4 420.6h0M117.0 425.2h0M114.9 423.7h0M110.8 416.4h0M118.3 424.8h0M123.6 414.2h0M146.4 418.1h0M132.1 416.9h0M109.5 415.3h0M109.9 417.3h0M111.7 424.2h0M111.1 425.1h0M135.3 420.6h0M108.6 415.6h0M116.2 414.9h0M108.4 413.9h0M133.3 417.8h0M110.4 422.4h0M107.1 425.0h0M142.1 416.3h0M161.7 416.9h0M110.5 415.6h0M114.5 426.4h0M148.2 412.8h0M114.9 420.1h0M119.8 416.1h0M127.4 418.3h0M150.9 413.2h0M118.0 422.6h0M109.2 422.8h0M127.5 421.3h0M129.6 419.1h0M109.7 415.8h0M133.3 415.3h0M160.5 417.4h0M131.4 415.2h0M118.2 419.7h0M139.7 413.5h0M162.4 418.2h0M129.3 420.3h0M133.3 418.7h0M136.4 419.9h0M121.0 421.9h0M131.0 418.5h0M109.0 424.6h0M108.9 420.0h0M123.6 416.1h0M135.2 418.8h0M143.5 417.3h0M128.8 417.8h0M112.4 423.3h0M125.3 419.0h0M113.8 419.9h0M105.5 414.0h0M126.9 416.4h0M129.7 420.1h0M149.2 416.6h0M126.5 417.5h0M159.3 417.3h0M151.7 416.1h0M109.1 414.1h0M145.1 421.4h0M107.3 423.4h0M112.2 422.3h0M122.6 418.5h0M157.5 415.8h0M108.3 422.4h0M110.4 421.0h0M126.8 421.5h0M112.0 425.6h0M114.7 417.6h0M128.7 414.5h0M124.6 416.3h0M147.1 420.5h0M121.9 423.9h0M156.4 415.4h0M146.4 414.7h0M129.2 414.9h0M132.8 413.9h0M137.1 416.2h0M115.8 420.3h0M108.1 413.2h0M113.1 423.0h0M128.1 420.2h0M133.6 420.9h0M118.3 419.6h0M127.2 421.8h0M115.6 413.9h0M116.9 413.9h0M150.3 412.9h0M105.5 416.9h0M106.1 418.1h0M148.8 414.4h0M142.0 416.8h0M126.0 422.8h0M123.0 421.8h0M109.5 420.0h0M135.6 416.4h0M117.4 425.3h0M110.3 416.2h0M112.3 420.0h0M138.6 416.1h0M122.3 417.9h0M125.6 413.5h0M120.8 416.3h0M129.7 421.0h0M107.0 419.5h0M106.2 416.4h0M133.2 418.1h0M122.4 417.8h0M106.3 418.4h0M130.6 421.3h0M114.5 424.5h0M110.3 421.7h0M136.2 416.0h0M139.0 419.0h0M116.9 414.5h0M129.8 414.6h0M114.8 415.1h0M129.3 418.5h0M135.6 416.2h0M152.8 420.0h0M132.3 415.3h0M117.7 420.5h0M119.2 418.1h0M107.9 421.9h0M116.9 418.4h0M119.1 415.0h0M140.3 417.1h0M112.6 417.0h0M106.5 413.3h0M108.8 420.5h0M145.3 414.9h0M118.1 421.4h0M111.3 416.6h0M109.6 417.7h0M115.6 413.9h0M133.2 419.2h0M116.6 422.2h0M105.6 425.0h0M106.6 418.2h0M116.6 414.3h0M127.4 418.8h0M115.8 419.4h0M139.4 418.4h0M130.4 424.1h0M106.9 417.7h0M108.9 413.2h0M141.4 416.9h0M122.9 413.1h0M122.2 421.4h0M134.9 418.6h0M114.5 422.3h0M150.1 418.7h0M108.3 425.3h0M109.1 413.8h0M114.1 425.2h0M120.5 417.1h0M150.3 413.2h0M184.2 413.3h0M145.1 417.8h0M128.6 418.3h0M109.5 420.0h0M105.9 418.3h0M114.2 426.1h0M173.2 413.2h0M115.5 415.1h0M109.9 418.5h0M131.0 417.9h0M116.5 413.7h0M106.7 421.2h0M134.9 421.6h0M155.1 415.4h0M120.3 418.1h0M177.6 413.2h0M127.8 418.5h0M130.3 421.4h0M145.7 416.0h0M115.1 422.6h0M148.8 413.0h0M116.6 418.7h0M135.3 417.2h0M105.9 421.4h0M111.0 423.3h0M123.0 422.9h0M108.5 413.0h0M136.7 421.8h0M135.5 422.5h0M115.4 415.6h0M131.4 423.9h0M140.7 420.4h0M106.2 417.2h0M109.4 425.6h0M117.1 426.0h0M143.1 420.5h0M131.4 420.9h0M114.7 414.6h0M121.2 414.9h0M133.4 413.8h0M131.6 424.0h0M110.2 423.0h0M108.7 426.2h0M122.4 416.2h0M109.9 422.1h0M134.1 418.6h0M121.9 416.1h0M105.9 422.5h0M125.0 416.2h0M137.9 416.7h0M111.9 422.6h0M126.3 418.9h0M114.3 423.0h0M108.0 426.8h0M110.9 414.7h0M143.8 419.7h0M160.7 416.8h0M127.6 416.6h0M122.9 415.6h0M118.6 426.2h0M116.7 414.6h0M146.3 412.9h0M125.7 414.3h0M115.9 418.7h0M112.2 420.3h0M109.3 422.7h0M108.2 422.4h0M164.3 413.2h0M163.7 416.7h0M120.7 421.2h0M125.7 418.0h0M143.2 421.5h0M115.4 418.6h0M105.4 418.3h0M114.5 419.8h0M131.9 420.5h0M142.6 420.4h0M126.6 414.9h0M118.3 423.6h0M141.8 417.9h0M132.7 420.1h0M120.0 419.0h0M124.7 415.5h0M137.7 417.9h0M105.7 416.5h0M124.9 416.5h0M109.6 415.3h0M114.5 426.2h0M156.5 418.5h0M146.0 417.3h0M145.0 418.7h0M106.4 419.6h0M134.7 417.1h0M115.8 416.7h0M113.6 413.3h0M137.5 414.7h0M131.1 414.0h0M117.3 414.9h0M131.4 422.3h0M170.0 415.6h0M127.0 419.6h0M132.0 415.3h0M119.0 424.8h0M132.1 413.2h0M112.0 414.9h0M111.5 412.8h0M127.4 424.7h0M106.8 423.8h0M109.8 418.1h0M122.0 422.9h0M138.6 418.8h0M118.1 419.1h0M122.0 418.5h0M135.0 415.0h0M142.2 419.1h0M110.1 426.7h0M160.7 414.5h0M130.4 416.9h0M111.2 415.6h0M143.9 413.3h0M131.8 414.3h0M145.5 413.5h0M107.9 419.1h0M129.2 416.5h0M116.6 426.4h0M143.9 415.6h0M137.7 422.9h0M112.1 421.9h0M140.7 416.2h0M117.2 417.1h0M113.2 417.4h0M126.0 422.6h0M124.2 423.8h0M125.2 420.0h0M113.8 419.8h0M128.4 422.3h0M105.7 426.9h0M119.9 422.2h0M112.2 423.5h0M117.0 417.8h0M156.7 415.3h0M110.4 417.8h0M109.0 413.4h0M147.8 420.2h0M144.7 415.3h0M124.9 421.6h0M106.2 413.1h0M106.0 417.8h0M120.3 421.7h0M119.7 423.1h0M119.2 418.3h0M141.0 417.1h0M120.7 422.8h0M108.2 427.0h0M115.5 416.8h0M106.2 428.0h0M107.1 415.0h0M118.0 415.6h0M118.2 414.2h0M121.0 417.0h0M110.9 416.1h0M108.2 423.0h0M135.2 419.4h0M122.9 417.5h0M134.8 413.7h0M139.0 422.5h0M125.0 420.6h0M134.6 423.3h0M110.8 417.7h0M145.1 416.7h0M119.4 422.4h0M115.1 421.0h0M115.1 419.7h0M111.0 418.2h0M111.5 418.1h0M109.5 426.6h0M134.3 418.0h0M121.5 423.0h0M160.0 414.0h0M118.8 418.2h0M122.5 424.8h0M110.8 427.1h0M146.0 416.7h0M160.9 414.2h0M143.4 414.3h0M115.2 423.2h0M127.9 424.0h0M112.9 424.1h0M109.7 422.9h0M126.9 414.7h0M126.2 420.5h0M151.7 417.1h0M114.5 416.7h0M160.2 417.4h0M115.9 415.0h0M122.4 423.8h0M113.8 416.6h0M114.5 413.0h0M120.5 419.8h0M135.9 415.7h0M109.0 425.9h0M115.6 423.8h0M131.7 419.3h0M134.8 415.3h0M151.6 413.4h0M106.9 425.7h0M130.6 413.8h0M165.7 414.5h0M131.2 415.1h0M120.3 419.6h0M114.3 417.6h0M124.7 415.3h0M121.4 423.0h0M123.8 419.9h0M106.7 424.0h0M125.8 419.7h0M108.3 414.0h0M126.8 419.6h0M143.9 416.9h0M110.8 422.4h0M122.2 423.9h0M127.0 416.7h0M111.5 422.2h0M125.1 417.9h0M133.3 419.1h0M117.1 417.6h0M111.9 422.8h0M117.1 420.8h0M160.0 418.5h0M124.3 420.5h0M123.7 417.8h0M161.3 417.1h0M106.4 415.7h0M116.6 426.5h0M122.0 423.7h0M157.0 416.5h0M115.5 423.5h0M144.6 413.4h0M129.8 417.9h0M117.1 419.7h0M136.5 421.0h0M148.6 418.8h0M136.7 414.1h0M106.9 414.2h0M106.0 413.0h0M121.9 425.2h0M142.0 413.7h0M128.3 415.7h0M133.4 417.3h0M117.4 413.1h0M116.3 417.6h0M158.8 420.8h0M163.6 420.1h0M171.9 420.1h0M167.6 414.0h0M187.2 418.7h0M159.2 420.3h0M168.4 420.6h0M160.1 412.8h0M169.1 414.1h0M156.1 419.8h0M155.9 416.6h0M195.5 414.0h0M171.0 414.4h0M172.2 416.7h0M167.2 418.3h0M184.3 417.9h0M163.0 418.3h0M155.3 417.9h0M197.7 416.4h0M166.3 417.1h0M179.0 419.9h0M179.6 418.8h0M158.7 419.2h0M169.8 415.1h0M155.7 417.1h0M181.3 414.0h0M160.2 414.6h0M169.7 420.0h0M185.8 415.1h0M201.3 419.0h0M187.3 413.2h0M179.0 415.3h0M159.3 418.7h0M172.5 419.5h0M159.1 418.0h0M184.3 416.9h0M178.4 416.8h0M189.5 414.9h0M169.3 420.2h0M160.0 418.1h0" stroke="#3e8e3e" stroke-width="1.8" stroke-linecap="round" fill="none"/>
<path d="M54.9 417.8h0M46.5 425.3h0M63.4 415.5h0M50.8 420.0h0M58.4 424.7h0M56.9 427.8h0M68.5 424.9h0M67.7 414.8h0M54.7 426.1h0M51.5 414.3h0M45.4 424.6h0M50.9 423.1h0M69.7 421.8h0M68.0 418.5h0M44.1 423.1h0M52.7 425.7h0M50.1 425.3h0M67.2 419.9h0M55.6 424.1h0M60.4 423.2h0M44.6 426.1h0M65.1 418.0h0M62.1 422.0h0M60.2 428.3h0M60.5 415.7h0M60.1 420.5h0M62.1 416.5h0M54.7 426.9h0M60.6 418.6h0M68.6 428.3h0M59.1 414.6h0M45.1 418.1h0M60.9 415.8h0M58.1 418.1h0M64.6 425.3h0M44.2 417.6h0M48.2 426.8h0M46.8 414.8h0M67.1 421.3h0M63.1 424.2h0M47.0 419.1h0M51.1 427.9h0M62.9 428.6h0M61.2 425.8h0M51.4 423.1h0M63.4 418.7h0M46.0 423.7h0M58.1 413.8h0M55.4 416.1h0M65.4 416.9h0M50.4 426.4h0M64.7 425.2h0M56.9 422.1h0M59.9 414.0h0M49.7 427.5h0M64.2 425.1h0M58.6 424.5h0M66.6 418.8h0M65.4 423.2h0M49.2 418.3h0M48.8 427.7h0M69.9 415.5h0M46.4 422.2h0M46.0 427.7h0M59.6 416.3h0M69.1 414.6h0M54.2 428.2h0M61.3 421.1h0M47.2 425.0h0M48.2 414.2h0M52.3 413.5h0M58.9 417.5h0M64.3 425.2h0M66.1 414.2h0M46.3 423.8h0M50.8 419.3h0M64.5 415.1h0M56.5 413.3h0M60.8 417.4h0M55.6 419.0h0M59.3 416.2h0M57.4 423.6h0M51.2 423.1h0M51.0 420.0h0M69.8 413.3h0M50.8 422.3h0M58.9 423.4h0M45.8 425.4h0M66.7 421.6h0M45.2 419.4h0M50.3 414.8h0M63.1 428.3h0M52.2 427.2h0M51.6 416.2h0M65.7 414.9h0M56.2 419.7h0M59.0 424.5h0M69.0 426.0h0M68.5 425.4h0M64.4 421.2h0M45.2 416.4h0M58.8 427.0h0M70.2 415.3h0M60.4 427.3h0M67.0 428.0h0M69.0 416.7h0M64.7 414.5h0M60.9 422.8h0M55.2 422.4h0M57.4 418.0h0M60.7 421.1h0M63.9 428.3h0M67.7 424.8h0M52.0 417.3h0M56.9 423.1h0M46.3 417.6h0M56.3 423.8h0M54.6 419.8h0M69.4 418.9h0M52.4 426.7h0M51.4 425.8h0M49.0 417.0h0M53.9 423.7h0M48.2 417.3h0M67.4 417.8h0M50.7 421.6h0M46.9 424.2h0M47.2 420.9h0M61.6 420.5h0M63.8 415.4h0M64.4 422.1h0M60.7 419.3h0M62.2 416.7h0M65.9 421.5h0M64.7 421.7h0M66.1 421.7h0M66.3 426.6h0M68.8 427.8h0M69.9 417.0h0M46.5 424.1h0M51.0 421.9h0M50.0 426.0h0M57.6 417.4h0M52.9 427.7h0M45.2 428.4h0M69.6 417.8h0M50.1 414.8h0M44.3 413.9h0M44.6 425.6h0M45.7 416.7h0M49.7 422.5h0M53.8 419.6h0M65.3 419.5h0M47.4 427.7h0M61.8 421.8h0M57.0 426.9h0M50.4 414.5h0M69.2 423.5h0M55.0 414.8h0M64.7 423.6h0M62.5 424.1h0M47.4 414.5h0M53.7 413.7h0M66.8 420.3h0M68.0 422.2h0M57.1 426.2h0M44.1 422.0h0M47.5 422.9h0M56.7 423.3h0M63.8 416.4h0M56.5 420.3h0M69.8 420.9h0M55.9 417.5h0M44.8 424.5h0M49.1 420.7h0M44.5 416.7h0M64.0 421.5h0M67.9 421.1h0M53.9 427.1h0M54.6 423.2h0M62.7 415.8h0M46.7 420.6h0M57.8 422.6h0M55.7 413.7h0M54.3 422.3h0M58.7 414.7h0M60.1 413.4h0M53.4 416.5h0M65.6 414.4h0M70.1 420.4h0M51.1 420.4h0M60.9 427.1h0M62.4 417.3h0M50.8 424.0h0M62.2 428.6h0M67.8 417.3h0M57.5 420.1h0M52.4 416.1h0M50.2 418.0h0M44.0 428.1h0M68.1 428.6h0M46.0 417.0h0M57.9 426.5h0M66.7 427.0h0M55.8 418.3h0M65.2 418.0h0M57.1 426.8h0M50.2 420.0h0M57.3 424.1h0M69.7 416.9h0M68.3 425.2h0M68.7 413.9h0M57.9 414.1h0M69.4 414.2h0M50.2 425.4h0M45.3 414.9h0M47.5 420.8h0M44.4 416.6h0M66.7 414.5h0M50.8 425.7h0M62.3 420.4h0M47.1 419.1h0M54.1 417.6h0M62.9 422.9h0M49.0 428.1h0M68.2 428.6h0M60.1 418.2h0M68.6 418.5h0M69.8 413.6h0M60.7 420.9h0M46.0 423.4h0M45.7 420.0h0M53.9 414.4h0M67.1 420.3h0M47.6 420.5h0M64.7 415.1h0M50.5 428.4h0M62.6 424.0h0M45.1 424.2h0M56.4 425.8h0M63.5 418.1h0M57.9 422.3h0M53.5 421.0h0M52.2 417.5h0M50.7 421.7h0M57.3 421.8h0M46.4 416.2h0M51.1 424.3h0M64.9 415.4h0M60.2 415.4h0M113.0 414.3h0M107.9 417.0h0M115.3 416.1h0M156.4 413.9h0M132.0 421.9h0M128.8 419.0h0M163.7 416.5h0M118.9 421.5h0M114.2 419.5h0M143.5 413.3h0M109.4 420.5h0M115.6 422.9h0M112.7 418.6h0M119.2 413.3h0M113.1 420.7h0M122.0 419.5h0M110.1 420.9h0M135.3 418.3h0M106.9 413.5h0M119.2 424.3h0M135.3 416.6h0M108.8 417.3h0M107.2 425.8h0M119.8 413.5h0M134.9 414.1h0M121.1 421.6h0M143.4 415.4h0M119.0 419.3h0M133.3 422.0h0M125.9 415.3h0M123.0 420.4h0M112.0 415.6h0M117.4 414.9h0M113.6 422.0h0M122.5 416.5h0M125.2 421.3h0M112.5 413.8h0M122.9 422.4h0M120.1 413.4h0M136.2 420.4h0M123.9 415.2h0M122.7 417.0h0M110.9 414.7h0M125.8 418.3h0M108.7 417.9h0M109.5 424.7h0M124.8 421.1h0M147.4 413.8h0M114.0 417.7h0M111.9 425.4h0M130.7 422.5h0M120.4 416.8h0M117.4 413.7h0M113.3 417.5h0M120.5 421.3h0M107.8 423.6h0M114.9 417.5h0M108.8 416.5h0M111.9 417.9h0M110.3 421.7h0M112.0 416.8h0M136.4 420.9h0M108.0 418.2h0M149.0 417.5h0M105.4 420.7h0M124.9 417.8h0M113.6 418.4h0M110.3 418.0h0M130.5 414.0h0M120.1 419.2h0M129.4 418.7h0M106.8 425.7h0M114.1 425.4h0M123.4 417.5h0M121.3 416.9h0M107.6 422.2h0M117.2 419.9h0M112.8 419.2h0M125.9 417.0h0M120.9 415.3h0M126.8 419.4h0M132.1 418.3h0M125.3 415.9h0M109.5 415.6h0M148.7 415.7h0M108.8 420.0h0M133.2 419.2h0M110.2 423.4h0M108.9 415.4h0M115.7 417.1h0M130.0 420.2h0M125.9 416.9h0M133.4 415.7h0M113.3 419.8h0M121.0 421.1h0M108.0 426.0h0M134.1 414.6h0M120.0 417.0h0M108.8 415.5h0M111.1 413.8h0M126.0 423.1h0M135.6 414.4h0M120.8 416.3h0M116.7 424.7h0M109.4 415.8h0M106.9 425.7h0M152.0 416.1h0M115.4 416.0h0M116.7 416.7h0M112.4 419.7h0M116.1 414.0h0M125.2 419.5h0M107.4 417.1h0M140.4 416.8h0M119.1 422.1h0M108.7 413.6h0M117.7 420.3h0M110.0 422.6h0M132.7 420.2h0M134.8 415.2h0M127.8 414.7h0M109.9 420.7h0M112.9 414.5h0M121.3 422.2h0M109.6 424.7h0M118.4 416.5h0M115.6 422.1h0M120.8 420.2h0M106.2 422.5h0M158.1 413.4h0M136.1 415.7h0M121.0 424.2h0M106.4 414.5h0M113.3 419.2h0M113.2 415.0h0M118.4 423.7h0M135.4 415.2h0M105.8 421.7h0M117.6 413.7h0M135.4 419.0h0M118.2 418.3h0M106.8 422.0h0M115.1 422.1h0M112.2 418.1h0M118.9 424.5h0M110.0 420.7h0M118.6 416.4h0M113.2 417.4h0M118.8 420.7h0M120.4 417.8h0M122.7 423.5h0M108.1 419.2h0M112.2 425.5h0M109.6 420.9h0M126.1 420.0h0M126.9 414.0h0M109.6 421.7h0M108.3 425.6h0M121.9 419.3h0M110.6 420.5h0M127.8 415.8h0M112.0 425.6h0M118.9 416.4h0M115.1 423.8h0M116.2 415.2h0M108.8 420.9h0M141.0 418.9h0M113.8 422.2h0M107.1 423.4h0M122.2 423.8h0M122.3 421.3h0M129.7 413.2h0M108.6 421.5h0M120.1 422.5h0M119.4 414.5h0M106.7 424.2h0M139.8 420.5h0M114.5 418.6h0M107.6 415.3h0M113.9 417.4h0M135.2 416.4h0M138.3 413.9h0M113.1 423.7h0M119.1 424.1h0M111.1 416.1h0M111.2 423.3h0M107.5 424.6h0M108.3 425.2h0M116.3 419.3h0M125.0 421.4h0M140.1 419.9h0M118.0 417.5h0M126.9 421.2h0M127.3 420.2h0M117.9 419.9h0M127.7 419.2h0M129.2 421.9h0M139.8 420.3h0M120.0 422.7h0M114.5 417.8h0" stroke="#6fae6f" stroke-width="1.8" stroke-linecap="round" fill="none"/>
<path d="M74.6 385.4h0M72.6 382.5h0M75.7 374.6h0M79.1 396.0h0M75.7 396.1h0M79.3 407.6h0M79.9 394.3h0M77.9 405.5h0M78.6 408.3h0M74.2 387.8h0M81.9 408.5h0M76.1 404.7h0M80.0 394.9h0M76.2 376.5h0M71.9 373.5h0M81.1 405.2h0M75.5 403.6h0M75.4 403.8h0M78.2 411.3h0M83.5 408.3h0M74.6 370.4h0M74.5 400.0h0M71.0 360.5h0M73.1 412.0h0M74.7 406.8h0M73.1 376.7h0M77.8 390.6h0M71.2 387.4h0M74.2 364.0h0M81.5 410.5h0M75.2 391.2h0M75.8 386.9h0M76.8 397.9h0M78.2 382.3h0M82.1 403.8h0M76.8 378.8h0M75.8 389.1h0M79.7 395.4h0M75.7 386.4h0M79.1 411.9h0M76.0 404.9h0M77.4 403.8h0M80.3 398.4h0M75.3 386.3h0M73.2 369.9h0M78.6 392.8h0M79.9 401.9h0M75.5 363.7h0M73.0 401.5h0M77.2 388.4h0M71.8 397.6h0M73.3 411.7h0M84.1 411.0h0M81.6 401.5h0M81.2 402.1h0M74.4 411.6h0M76.7 386.4h0M72.7 405.5h0M75.2 373.1h0M77.5 397.2h0M72.6 378.2h0M76.1 405.8h0M73.9 398.3h0M72.6 405.1h0M71.1 385.2h0M73.4 410.1h0M72.5 375.6h0M78.7 403.1h0M76.0 389.8h0M72.7 399.9h0M84.1 411.2h0M79.7 398.3h0M79.9 409.5h0M76.3 384.5h0M76.8 357.8h0M75.2 409.2h0M73.3 401.0h0M74.8 398.5h0M74.2 410.1h0M75.7 411.6h0M79.0 402.1h0M82.5 411.0h0M77.4 382.0h0M72.8 400.8h0M76.1 408.6h0M81.1 392.6h0M82.2 407.5h0M75.9 366.1h0M80.0 405.8h0M78.3 383.5h0M79.0 380.6h0M75.3 382.9h0M73.1 406.5h0M81.0 403.2h0M83.2 409.8h0M72.5 381.5h0M76.6 380.3h0M77.9 406.8h0M75.6 395.6h0M72.3 399.3h0M80.7 404.4h0M80.1 389.7h0M78.2 401.2h0M82.3 404.4h0M77.1 385.1h0M80.0 406.0h0M74.6 372.0h0M76.6 411.0h0M71.4 404.5h0M76.0 409.4h0M80.5 389.6h0M74.6 345.5h0M74.8 365.7h0M79.4 406.9h0M82.0 402.3h0M71.5 404.8h0M80.1 410.2h0M76.8 395.6h0M77.0 378.3h0M74.4 388.0h0M78.7 391.7h0M71.9 410.7h0M79.1 400.7h0M75.5 406.9h0M79.1 406.7h0M71.5 366.2h0M75.4 400.8h0M72.2 400.0h0M77.6 385.2h0M71.9 396.0h0M75.7 410.3h0M75.3 411.1h0M80.8 394.2h0M73.8 410.9h0M80.1 401.3h0M77.5 409.3h0M83.9 410.2h0M77.5 400.5h0M74.9 409.0h0M73.8 396.9h0M71.7 408.6h0M79.3 409.3h0M75.2 403.1h0M72.5 403.3h0M80.9 406.0h0M80.2 397.3h0M83.4 408.1h0M72.2 346.3h0M82.0 404.8h0M78.9 407.5h0M72.0 388.8h0M81.2 399.3h0M80.5 394.6h0M75.2 378.0h0M81.9 410.1h0M75.6 364.9h0M77.5 382.4h0M75.1 402.3h0M79.4 409.1h0M79.1 385.7h0M79.3 393.2h0M73.8 403.5h0M76.5 400.6h0M79.2 405.2h0M73.8 398.3h0M75.6 366.0h0M71.8 392.6h0M81.3 394.8h0M83.7 410.0h0M78.5 410.0h0M82.6 408.6h0M81.7 402.8h0M72.4 401.0h0M73.1 396.9h0M75.7 404.2h0M76.2 409.5h0M74.5 382.0h0M76.7 345.2h0M80.6 411.7h0M73.5 385.3h0M74.6 407.8h0M72.2 382.3h0M78.2 394.9h0M80.8 411.9h0M75.8 388.8h0M79.7 402.0h0M77.3 403.4h0M75.4 381.3h0M71.1 398.5h0M74.0 403.1h0M77.6 408.7h0M77.3 373.1h0M73.3 407.0h0M78.4 411.9h0M78.0 375.4h0M79.4 383.1h0M75.6 389.6h0M78.4 406.3h0M73.3 353.8h0M83.5 408.6h0M78.8 391.9h0M81.1 395.2h0M78.1 412.2h0M75.0 370.5h0M81.5 402.6h0M81.4 405.9h0M78.3 385.8h0M72.5 382.5h0M76.1 406.6h0M76.2 351.8h0M71.9 390.8h0M75.2 402.9h0M80.0 391.2h0M78.1 405.3h0M71.5 406.1h0M72.1 395.4h0M73.4 348.0h0M77.3 388.5h0M75.5 387.8h0M75.4 411.8h0M78.6 396.0h0M80.7 406.1h0M79.0 395.7h0M74.1 366.9h0M71.4 349.1h0M72.4 405.4h0M71.9 391.1h0M71.4 401.2h0M75.9 375.4h0M75.4 385.2h0M75.2 408.8h0M79.6 392.5h0M75.5 396.2h0M80.8 402.5h0M75.2 364.3h0M76.8 410.5h0M75.5 398.4h0M75.8 401.1h0M76.7 411.4h0M71.7 365.3h0M73.3 384.7h0M72.6 391.7h0M76.0 400.9h0M72.5 393.7h0M78.3 391.7h0M71.9 406.9h0M74.2 361.4h0M80.9 404.7h0M83.3 407.9h0M71.6 387.4h0M77.6 412.3h0M77.9 410.0h0M75.0 378.3h0M70.9 396.2h0M81.4 402.5h0M72.5 392.0h0M76.1 404.2h0M79.6 410.2h0M77.1 375.3h0M71.3 360.0h0M77.0 387.9h0M71.6 405.4h0M74.7 411.8h0M75.3 398.1h0M81.9 410.2h0M74.2 390.5h0M80.0 412.3h0M78.9 390.2h0M74.9 381.4h0M72.2 361.8h0M73.3 392.2h0M72.2 368.1h0M75.8 366.2h0M80.5 409.6h0M77.7 383.5h0M71.6 395.3h0M73.4 376.2h0M80.6 408.1h0M73.0 403.7h0M83.1 409.7h0M74.6 409.1h0M77.5 387.6h0M80.2 411.0h0M76.6 399.2h0M73.8 392.5h0M78.8 407.1h0M78.8 398.8h0M74.4 410.7h0M76.5 380.4h0M81.4 399.6h0M74.9 400.2h0M73.7 402.2h0M80.2 400.2h0M76.3 409.8h0M75.1 401.5h0M79.9 407.8h0M72.5 407.4h0M75.5 355.7h0M71.4 367.9h0M78.7 405.6h0M71.5 383.7h0M76.1 380.5h0M74.3 334.9h0M76.8 412.0h0M75.4 384.4h0M77.8 397.7h0M72.6 398.3h0M82.2 408.1h0M75.6 393.3h0M82.2 410.0h0M74.3 410.4h0M74.9 391.6h0M75.6 406.2h0M83.1 405.7h0M79.0 380.0h0M72.2 401.7h0M76.4 401.1h0M78.2 396.1h0M74.8 374.6h0M79.8 411.2h0M72.5 375.2h0M79.6 397.6h0M77.8 409.0h0M75.7 400.0h0M74.6 409.7h0M73.3 397.5h0M83.9 410.6h0M73.6 389.1h0M77.3 376.2h0M76.5 367.5h0M74.3 398.4h0M76.2 399.1h0M75.4 394.4h0M77.2 388.9h0M74.8 408.3h0M72.5 410.2h0M80.9 393.9h0M78.3 410.2h0M74.5 395.1h0M71.7 353.8h0M76.0 372.8h0M73.9 343.0h0M72.4 371.9h0M81.1 400.6h0M77.2 403.9h0M78.4 396.3h0M75.0 375.0h0M75.5 402.1h0M82.7 411.7h0M79.4 411.2h0M81.1 411.6h0M74.8 405.2h0M76.7 405.6h0M77.3 374.7h0M75.2 407.8h0M76.3 378.5h0M78.1 410.8h0M75.6 412.0h0M74.8 408.4h0M77.3 410.2h0M83.0 408.4h0M79.7 397.3h0M73.8 409.3h0M78.6 401.0h0M71.3 393.5h0M78.2 410.9h0M77.2 395.6h0M75.3 385.5h0M81.8 410.1h0M72.5 397.7h0M77.8 398.4h0M76.6 409.6h0M75.3 369.2h0M76.6 379.5h0M79.5 391.1h0M76.2 384.8h0M77.9 396.4h0M75.4 409.8h0M73.8 411.1h0M73.3 397.5h0M76.6 406.2h0M80.6 410.1h0M73.8 355.0h0M73.0 404.8h0M82.0 404.0h0M77.0 373.9h0M71.2 386.8h0M75.8 401.8h0M82.2 406.0h0M78.6 388.9h0M78.8 409.5h0M74.5 376.1h0M71.6 395.8h0M76.3 393.9h0M78.6 395.5h0M76.4 394.4h0M71.3 385.0h0M74.1 411.5h0M77.1 408.8h0M73.8 401.8h0M75.1 365.4h0M82.6 408.7h0M80.5 395.6h0M80.1 407.1h0M80.4 404.7h0M76.8 359.8h0M72.9 396.3h0M79.1 383.1h0M75.7 402.0h0M74.2 400.8h0M76.1 404.5h0M77.4 397.5h0M77.2 395.3h0M71.5 378.1h0M71.5 363.5h0M76.7 380.4h0M76.3 383.0h0M77.4 408.0h0M74.7 379.4h0M76.7 409.7h0M72.0 396.4h0M77.4 407.6h0M76.0 410.8h0M74.4 411.8h0M71.6 384.7h0M74.4 397.8h0M74.0 392.2h0M79.3 393.2h0M74.7 399.7h0M81.3 411.4h0M74.2 391.7h0M71.8 410.8h0M75.7 369.8h0M79.3 403.1h0M81.4 399.8h0M73.3 403.6h0M80.7 406.5h0M79.9 412.1h0M74.9 394.4h0M78.6 395.4h0M75.5 412.2h0M76.5 409.2h0M74.3 395.4h0M73.0 372.8h0M83.3 408.9h0M80.6 394.8h0M74.4 378.3h0M80.7 394.0h0M72.7 389.7h0M79.7 409.6h0M78.8 404.5h0M73.3 410.2h0M79.5 410.4h0M75.6 358.3h0M75.3 377.8h0M76.9 393.5h0M74.9 410.9h0M80.3 389.8h0M73.7 380.3h0M72.5 394.3h0M72.2 404.3h0M72.3 369.0h0M82.6 404.2h0M73.8 403.7h0M77.0 399.3h0M81.1 409.0h0M72.2 409.0h0M75.3 402.8h0M74.1 370.8h0M73.9 368.0h0M80.3 398.4h0M75.0 400.5h0M77.0 372.8h0M80.2 388.8h0M80.6 401.3h0M72.6 411.2h0M78.8 391.8h0M78.8 411.0h0M73.6 409.1h0M78.1 396.6h0M72.4 374.6h0M74.2 388.6h0M75.3 379.8h0M72.8 401.5h0M77.6 400.0h0M77.7 405.1h0M77.8 408.2h0M75.4 405.4h0M71.3 388.2h0M71.5 395.7h0M76.4 397.3h0M75.9 370.3h0M73.2 400.2h0M74.9 398.0h0M81.9 399.9h0M76.9 396.9h0M75.9 411.3h0M74.9 409.8h0M77.0 394.5h0M73.3 397.0h0M82.1 409.5h0M71.1 404.1h0M76.1 400.8h0M79.8 406.4h0M78.3 385.3h0M76.6 377.7h0M78.4 384.0h0M76.6 412.2h0M80.1 391.1h0M76.3 389.6h0M81.8 410.8h0M77.8 405.9h0M81.1 403.9h0M80.4 393.8h0M78.0 383.2h0M77.4 397.5h0M73.4 408.6h0M72.5 334.9h0M78.6 368.5h0M74.6 387.3h0M78.3 335.0h0M72.5 384.7h0M75.6 339.3h0M74.7 384.7h0M75.8 382.8h0M78.1 375.5h0M77.8 340.1h0M76.0 361.8h0M72.0 367.0h0M77.1 339.6h0M74.8 343.0h0M71.7 343.6h0M73.0 356.2h0M78.6 366.8h0M73.2 364.2h0M77.1 383.9h0M77.4 363.7h0M71.8 342.9h0M71.7 340.3h0M76.3 373.1h0M74.9 385.6h0M73.2 334.9h0M77.3 386.5h0M72.3 344.8h0M74.5 379.7h0M74.4 356.7h0M71.2 378.9h0M75.6 383.9h0M71.0 340.9h0M74.9 364.7h0M72.4 358.4h0M72.7 353.7h0M71.4 379.6h0M72.8 373.1h0M78.6 361.7h0M73.4 348.8h0M75.3 357.2h0M103.6 396.0h0M93.4 412.0h0M104.1 400.6h0M95.2 408.4h0M98.8 397.5h0M97.0 398.4h0M100.6 409.6h0M97.8 405.1h0M99.5 411.1h0M96.7 412.1h0M92.6 408.8h0M98.9 398.7h0M93.9 408.1h0M97.4 396.7h0M101.1 397.4h0M98.3 408.7h0M94.3 408.3h0M93.2 398.3h0M98.8 411.1h0M95.1 406.7h0M96.7 411.8h0M104.8 406.5h0M104.6 402.6h0M102.5 397.7h0M98.4 405.4h0M94.6 410.8h0M100.2 408.2h0M96.4 407.8h0M103.3 396.9h0M96.9 404.2h0M95.3 401.1h0M100.2 411.9h0M103.7 406.9h0M94.7 408.9h0M103.9 402.4h0M96.0 403.2h0M102.6 405.3h0M101.1 409.9h0M104.6 397.5h0M93.2 408.6h0M103.6 408.0h0M104.2 407.7h0M93.7 398.5h0M96.7 395.6h0M101.7 399.8h0M103.5 408.2h0M96.8 401.0h0M94.2 409.9h0M93.1 408.1h0M96.0 395.7h0M94.5 403.1h0M96.2 403.5h0M96.3 404.1h0M93.3 405.5h0M101.7 395.5h0M98.5 399.8h0M101.7 409.7h0M102.2 399.0h0M100.7 403.0h0M103.5 395.3h0M102.6 396.9h0M97.0 411.3h0M102.8 400.1h0M103.1 409.8h0M103.3 408.1h0M100.0 410.3h0M98.4 403.9h0M97.6 395.6h0M94.3 402.3h0M103.4 397.2h0M95.3 409.7h0M92.5 404.1h0M93.0 411.5h0M103.8 411.6h0M104.0 407.6h0M92.9 409.3h0M102.5 402.9h0M93.0 405.5h0M99.0 406.6h0M93.9 411.4h0M103.7 399.4h0M101.4 398.1h0M100.0 400.0h0M102.8 400.1h0M95.6 399.6h0M101.8 408.2h0M98.0 403.9h0M103.6 401.1h0M102.5 408.2h0M104.5 398.4h0M100.4 398.0h0M103.3 402.6h0M97.8 403.1h0M93.5 409.9h0M99.6 400.1h0M104.8 405.5h0M103.2 400.6h0M100.6 394.3h0M102.5 408.1h0M104.2 408.7h0M94.7 407.0h0M98.0 395.0h0M96.2 399.8h0M103.0 410.5h0M103.3 406.6h0M96.3 410.4h0M101.5 412.2h0M102.4 398.2h0M93.2 409.9h0M101.8 406.0h0M93.5 397.8h0M104.7 407.2h0M94.0 411.9h0M101.2 395.1h0M92.4 405.6h0M96.8 407.6h0M93.7 398.9h0M98.8 398.5h0M105.0 408.3h0M105.0 401.2h0M102.6 399.2h0M98.4 404.2h0M101.3 408.2h0M97.1 395.9h0M94.3 405.6h0M97.1 409.5h0M103.3 409.7h0M101.6 406.7h0M95.5 406.4h0M93.8 406.7h0M95.8 408.2h0M103.7 406.5h0M94.5 402.6h0M100.5 397.5h0M104.3 405.9h0M100.9 395.3h0M101.1 401.2h0M98.9 402.5h0M100.3 411.7h0M102.5 394.2h0M93.0 406.9h0M101.7 401.8h0M99.0 393.2h0M103.4 395.4h0M103.3 397.1h0M95.2 407.5h0M105.0 400.9h0M92.4 410.4h0M101.3 406.5h0M100.0 400.4h0M98.7 394.0h0M94.1 404.8h0M95.0 403.4h0M95.9 409.1h0M102.3 409.3h0M94.6 405.8h0M95.1 412.2h0M101.0 412.0h0M98.2 406.5h0M94.3 407.2h0M93.0 412.0h0M95.0 407.4h0M102.7 406.6h0M97.3 394.8h0M102.2 408.6h0M98.8 408.0h0M100.9 398.6h0M95.4 402.4h0M92.4 411.8h0M97.8 398.2h0M96.7 409.5h0M102.6 397.5h0M94.0 402.1h0M103.6 394.9h0M104.6 403.5h0M94.3 403.7h0M92.5 400.7h0M104.6 405.0h0M97.4 393.9h0M97.1 394.8h0M94.2 404.1h0M98.9 411.9h0M94.1 408.8h0M99.8 410.4h0M94.8 407.2h0M99.0 401.7h0M94.1 400.7h0M103.6 399.5h0M96.8 409.1h0M97.4 412.3h0M96.5 396.5h0M97.8 408.6h0M96.9 407.8h0M97.7 399.8h0M97.0 395.1h0M92.4 412.1h0M97.3 407.7h0M102.8 409.8h0M104.2 408.6h0M101.0 407.8h0M102.6 409.8h0M99.6 407.7h0M101.1 410.6h0M98.2 411.6h0M102.4 406.3h0M102.8 411.3h0M95.7 410.9h0M103.5 409.9h0M96.9 406.8h0M102.9 404.0h0M96.9 399.9h0M97.2 410.2h0M96.7 410.3h0M99.1 405.6h0M103.9 395.4h0M100.7 406.8h0M95.2 401.9h0M102.5 411.0h0M98.5 399.7h0M95.0 403.8h0M99.1 411.8h0M104.8 404.3h0M97.2 397.7h0M104.7 399.7h0M97.6 404.2h0M99.4 398.4h0M100.7 400.4h0M99.4 395.7h0M99.5 396.3h0M98.0 393.4h0M104.3 407.0h0M96.4 408.3h0M103.1 401.2h0M104.3 410.5h0M97.7 406.0h0M98.4 407.4h0M103.5 411.2h0M100.1 393.7h0M102.8 396.0h0M96.9 396.9h0M94.3 397.2h0M103.3 404.1h0M97.4 405.6h0M93.2 402.4h0M93.8 403.9h0M95.1 405.7h0M102.9 404.4h0M96.2 407.8h0M100.6 408.9h0M104.4 412.2h0M98.5 408.6h0M102.0 410.3h0M93.1 398.0h0M102.5 406.7h0M97.3 409.5h0M104.7 409.3h0M99.5 392.8h0M99.5 404.4h0M92.4 411.0h0M96.8 396.7h0M96.3 378.7h0M100.6 381.5h0M105.2 352.7h0M105.2 369.0h0" stroke="#5a70c6" stroke-width="2.0" stroke-linecap="round" fill="none"/>
<path d="M82.3 407.5h0M80.7 391.7h0M78.8 388.9h0M80.8 398.1h0M72.4 392.3h0M77.1 393.2h0M75.3 409.6h0M78.4 409.4h0M75.7 404.8h0M74.6 404.5h0M82.2 393.1h0M72.4 403.9h0M80.3 408.6h0M73.8 409.4h0M73.9 399.3h0M72.2 399.2h0M81.5 394.6h0M72.7 394.7h0M78.6 405.9h0M75.1 403.5h0M82.6 399.9h0M76.7 405.7h0M76.2 394.2h0M77.5 394.5h0M75.9 404.5h0M80.4 403.0h0M76.2 405.7h0M80.4 394.2h0M75.6 398.5h0M78.7 410.0h0M73.4 389.2h0M82.8 391.0h0M79.9 391.8h0M77.3 386.4h0M78.6 402.7h0M73.6 393.4h0M78.0 386.0h0M74.6 391.1h0M73.0 390.5h0M73.1 389.1h0M96.9 404.9h0M96.2 405.7h0M97.2 399.1h0M99.4 399.7h0M95.8 409.7h0M100.3 401.8h0M100.2 404.7h0M102.1 399.7h0M103.1 408.1h0M99.7 403.4h0M103.6 405.1h0M96.4 408.6h0M103.1 399.7h0M94.6 401.5h0M95.9 402.4h0M103.3 409.8h0M96.0 399.6h0M99.6 401.2h0M103.8 407.9h0M98.8 405.6h0M94.2 400.7h0M98.9 404.7h0M100.4 408.8h0M97.0 404.7h0M96.5 398.0h0" stroke="#dfe3f3" stroke-width="1.8" stroke-linecap="round" fill="none"/>
<path d="M55.7 407.6h0M69.3 412.1h0M70.0 410.9h0M64.5 405.1h0M51.1 408.9h0M55.3 411.9h0M65.8 408.8h0M68.2 405.9h0M51.4 411.1h0M67.4 408.6h0M69.0 409.7h0M62.6 412.0h0M68.8 408.9h0M69.3 410.4h0M59.6 409.4h0M58.2 402.1h0M63.9 408.7h0M68.8 404.5h0M50.6 398.4h0M64.5 411.6h0M67.5 408.8h0M69.3 411.1h0M61.9 404.8h0M68.1 409.8h0M59.8 404.8h0M64.3 398.4h0M67.9 411.3h0M63.6 411.3h0M60.3 412.2h0M62.9 410.3h0M55.4 410.9h0M68.8 411.9h0M59.4 410.1h0M63.8 406.8h0M57.4 406.6h0M58.2 410.9h0M64.3 412.2h0M56.7 410.2h0M69.8 405.2h0M62.6 411.8h0M52.3 401.6h0M60.5 407.1h0M63.4 409.7h0M61.9 408.0h0M67.4 411.4h0M157.7 394.5h0M121.7 411.3h0M128.2 408.1h0M120.7 411.3h0M140.4 401.5h0M110.6 409.3h0M116.3 411.8h0M114.5 407.7h0M138.9 410.8h0M122.3 400.0h0M107.9 411.2h0M136.4 411.2h0M114.4 407.9h0M122.6 407.7h0M122.2 408.1h0M137.9 402.8h0M106.9 401.8h0M113.8 406.1h0M107.0 412.3h0M114.2 408.6h0M132.4 403.4h0M122.6 407.9h0M105.7 412.3h0M141.0 410.8h0M122.4 408.6h0M106.0 409.8h0M134.7 410.3h0M140.4 407.9h0M126.3 412.3h0M135.8 410.3h0M114.9 410.7h0M146.8 405.6h0M109.5 410.7h0M122.7 409.4h0M131.4 411.5h0M115.5 408.0h0M111.8 411.3h0M137.8 398.6h0M107.4 406.4h0M122.7 411.1h0M110.9 411.5h0M136.2 410.3h0M115.7 409.0h0M105.4 411.7h0M105.6 411.1h0M112.2 411.1h0M110.2 404.9h0M120.7 402.2h0M107.6 411.0h0M127.2 409.7h0M121.2 411.1h0M110.1 404.7h0M109.9 409.5h0M113.3 405.4h0M143.2 401.7h0M144.5 405.8h0M127.8 401.5h0M145.2 405.0h0M120.2 408.7h0M135.9 407.4h0M109.1 411.5h0M110.8 408.2h0M132.6 406.6h0M120.1 403.2h0M118.7 402.9h0M111.7 411.8h0M115.3 410.1h0M130.0 409.5h0M120.8 410.0h0M132.4 410.6h0M105.7 408.7h0M113.4 405.7h0M109.1 411.1h0M113.3 402.7h0M107.8 402.7h0M108.9 400.9h0M108.8 406.6h0M107.9 399.4h0M112.1 400.7h0M113.3 405.7h0M112.4 402.5h0M108.1 411.3h0M111.6 410.6h0M109.4 404.9h0M106.0 397.3h0M108.6 397.1h0M113.2 411.1h0M108.3 402.5h0M109.4 399.1h0M108.3 409.6h0M112.7 407.2h0M106.8 412.2h0M105.5 406.4h0M112.1 409.6h0M107.4 407.0h0M60.7 279.2h0M106.7 330.2h0M69.0 340.5h0M68.8 358.8h0M136.9 353.9h0M200.4 339.1h0M209.0 365.2h0M203.7 369.8h0M201.5 376.5h0M218.5 381.4h0M129.1 381.4h0M161.9 382.7h0M184.8 388.9h0M49.5 393.2h0M49.0 398.0h0M44.3 401.8h0M55.8 406.6h0M60.0 405.7h0M63.5 403.8h0M66.8 401.8h0M65.9 394.6h0M67.8 397.5h0M69.7 390.3h0M63.0 408.0h0M57.2 410.0h0M48.6 410.5h0M68.1 379.6h0M66.5 382.7h0M172.0 398.0h0M178.0 400.0h0M190.0 398.0h0M205.0 401.0h0M198.0 404.0h0M214.0 402.0h0M188.0 405.0h0M150.0 398.0h0M152.0 392.0h0M140.0 398.0h0M135.0 400.0h0" stroke="#ef5f38" stroke-width="2.6" stroke-linecap="round" fill="none"/>
<line x1="70.7" y1="265.6" x2="70.7" y2="440.6" stroke="#222" stroke-width="0.9" stroke-dasharray="3,2"/>
<line x1="105.8" y1="265.6" x2="105.8" y2="440.6" stroke="#222" stroke-width="0.9" stroke-dasharray="3,2"/>
<line x1="35.7" y1="411.8" x2="226" y2="411.8" stroke="#222" stroke-width="0.9" stroke-dasharray="3,2"/>
<text x="50.3" y="285.5" font-size="6.7" textLength="17.8" lengthAdjust="spacingAndGlyphs" fill="#262626">rps14</text>
<text x="108.1" y="330.2" font-size="6.7" textLength="16.7" lengthAdjust="spacingAndGlyphs" fill="#262626">rps27l</text>
<text x="56" y="339.6" font-size="6.7" textLength="12.1" lengthAdjust="spacingAndGlyphs" fill="#262626">rps9</text>
<text x="47.6" y="357.3" font-size="6.7" textLength="19.7" lengthAdjust="spacingAndGlyphs" fill="#262626">rpl22l1</text>
<text x="138.2" y="353.1" font-size="6.7" textLength="14.3" lengthAdjust="spacingAndGlyphs" fill="#262626">mf14</text>
<text x="199.1" y="345" font-size="6.7" textLength="18.8" lengthAdjust="spacingAndGlyphs" fill="#262626">prkab2</text>
<text x="207.7" y="363" font-size="6.7" textLength="19.7" lengthAdjust="spacingAndGlyphs" fill="#262626">cela1.6</text>
<text x="205.5" y="371.9" font-size="6.7" textLength="12.2" lengthAdjust="spacingAndGlyphs" fill="#262626">ela3l</text>
<text x="194.2" y="381.9" font-size="6.7" textLength="23.5" lengthAdjust="spacingAndGlyphs" fill="#262626">prss59.2</text>
<text x="218.5" y="386.7" font-size="6.7" textLength="11.3" lengthAdjust="spacingAndGlyphs" fill="#262626">cpb1</text>
<text x="131" y="380.5" font-size="6.7" textLength="13.4" lengthAdjust="spacingAndGlyphs" fill="#262626">plin6</text>
<text x="155.2" y="387.3" font-size="6.7" textLength="20.7" lengthAdjust="spacingAndGlyphs" fill="#262626">tnfrsf27</text>
<text x="50.7" y="379.6" font-size="6.7" textLength="20" lengthAdjust="spacingAndGlyphs" fill="#262626">rbm48</text>
<text x="54.7" y="387.3" font-size="6.7" textLength="9.8" lengthAdjust="spacingAndGlyphs" fill="#262626">rbl2</text>
<text x="110.2" y="396.2" font-size="6.7" textLength="19.4" lengthAdjust="spacingAndGlyphs" fill="#262626">pdxdc1</text>
<text x="131.8" y="392.7" font-size="6.7" textLength="14.5" lengthAdjust="spacingAndGlyphs" fill="#262626">tgm2l</text>
<text x="140.4" y="402.9" font-size="6.7" textLength="12.9" lengthAdjust="spacingAndGlyphs" fill="#262626">cpa1</text>
<text x="180.8" y="393.5" font-size="6.7" textLength="10.7" lengthAdjust="spacingAndGlyphs" fill="#262626">ela2</text>
<text x="196.4" y="395.4" font-size="6.7" textLength="16.7" lengthAdjust="spacingAndGlyphs" fill="#262626">sycn.2</text>
<text x="171.3" y="401.5" font-size="6.7" textLength="8.1" lengthAdjust="spacingAndGlyphs" fill="#262626">ctrl</text>
<text x="180.2" y="402.9" font-size="6.7" textLength="20.8" lengthAdjust="spacingAndGlyphs" fill="#262626">serpinl1</text>
<text x="211.7" y="404.8" font-size="6.7" textLength="12.2" lengthAdjust="spacingAndGlyphs" fill="#262626">cel.1</text>
<text x="192.9" y="406.9" font-size="6.7" textLength="14" lengthAdjust="spacingAndGlyphs" fill="#262626">cpa4</text>
<text x="44.9" y="398.5" font-size="6.7" textLength="15.4" lengthAdjust="spacingAndGlyphs" fill="#262626">pdl1.1</text>
<text x="41.4" y="405.2" font-size="6.7" textLength="10.6" lengthAdjust="spacingAndGlyphs" fill="#262626">dita</text>
<text x="41.4" y="410.2" font-size="6.7" textLength="13.4" lengthAdjust="spacingAndGlyphs" fill="#262626">ptpra</text>
<text x="65.9" y="404.7" font-size="6.7" textLength="9.6" lengthAdjust="spacingAndGlyphs" fill="#262626">tfty1</text>
<text x="66.8" y="393.7" font-size="6.7" textLength="8.7" lengthAdjust="spacingAndGlyphs" fill="#262626">xbt1</text>
<text x="61" y="409" font-size="6.7" textLength="12.6" lengthAdjust="spacingAndGlyphs" fill="#262626">atp7</text>
<text x="123.7" y="409.6" font-size="6.7" textLength="16.7" lengthAdjust="spacingAndGlyphs" fill="#262626">cdh4b</text>
<text x="161.4" y="411.5" font-size="6.7" textLength="14" lengthAdjust="spacingAndGlyphs" fill="#262626">tubb6</text>
<text x="218.8" y="12.4" font-size="11" font-weight="bold" textLength="7.3" lengthAdjust="spacingAndGlyphs" fill="#111">D</text>
<text x="318.6" y="13.1" font-size="8.8" textLength="26.2" lengthAdjust="spacingAndGlyphs" fill="#231f20">Rps14</text>
<text x="345.5" y="9.8" font-size="4.6" textLength="6.3" lengthAdjust="spacingAndGlyphs" fill="#231f20">+/-</text>
<text x="358.2" y="13.1" font-size="8.8" textLength="38.1" lengthAdjust="spacingAndGlyphs" fill="#231f20">Vs Rps14</text>
<text x="398.4" y="9.8" font-size="4.6" textLength="7.4" lengthAdjust="spacingAndGlyphs" fill="#231f20">+/+</text>
<rect x="228.5" y="17.3" width="71.5" height="175.5" fill="#fff" stroke="#231f20" stroke-width="1"/>
<line x1="236.8" y1="18" x2="236.8" y2="192.5" stroke="#c8c8c8" stroke-width="1"/>
<line x1="245" y1="18" x2="245" y2="192.5" stroke="#c8c8c8" stroke-width="1"/>
<line x1="229" y1="29.2" x2="247" y2="29.2" stroke="#c5cad2" stroke-width="1.0"/>
<line x1="229" y1="36.9" x2="247" y2="36.9" stroke="#c5cad2" stroke-width="1.0"/>
<line x1="229" y1="44.6" x2="247" y2="44.6" stroke="#c5cad2" stroke-width="1.0"/>
<line x1="229" y1="52.3" x2="243.3" y2="52.3" stroke="#c5cad2" stroke-width="1.0"/>
<line x1="229" y1="60.0" x2="238.10000000000002" y2="60.0" stroke="#c5cad2" stroke-width="1.0"/>
<line x1="229" y1="67.7" x2="237.0" y2="67.7" stroke="#c5cad2" stroke-width="1.0"/>
<line x1="229" y1="75.4" x2="236.8" y2="75.4" stroke="#c5cad2" stroke-width="1.0"/>
<line x1="229" y1="83.1" x2="236.3" y2="83.1" stroke="#c5cad2" stroke-width="1.0"/>
<line x1="229" y1="90.8" x2="236.0" y2="90.8" stroke="#c5cad2" stroke-width="1.0"/>
<line x1="229" y1="98.5" x2="234.10000000000002" y2="98.5" stroke="#c5cad2" stroke-width="1.0"/>
<line x1="229" y1="106.2" x2="234.10000000000002" y2="106.2" stroke="#c5cad2" stroke-width="1.0"/>
<line x1="229" y1="113.9" x2="234.10000000000002" y2="113.9" stroke="#c5cad2" stroke-width="1.0"/>
<line x1="229" y1="121.60000000000001" x2="234.10000000000002" y2="121.60000000000001" stroke="#c5cad2" stroke-width="1.0"/>
<line x1="229" y1="129.3" x2="234.10000000000002" y2="129.3" stroke="#c5cad2" stroke-width="1.0"/>
<line x1="229" y1="137.0" x2="234.10000000000002" y2="137.0" stroke="#c5cad2" stroke-width="1.0"/>
<line x1="229" y1="144.7" x2="234.10000000000002" y2="144.7" stroke="#c5cad2" stroke-width="1.0"/>
<line x1="229" y1="152.4" x2="233.8" y2="152.4" stroke="#c5cad2" stroke-width="1.0"/>
<line x1="229" y1="160.1" x2="233.3" y2="160.1" stroke="#c5cad2" stroke-width="1.0"/>
<line x1="229" y1="167.79999999999998" x2="233.0" y2="167.79999999999998" stroke="#c5cad2" stroke-width="1.0"/>
<line x1="229" y1="175.5" x2="232.8" y2="175.5" stroke="#c5cad2" stroke-width="1.0"/>
<line x1="229" y1="183.2" x2="232.5" y2="183.2" stroke="#c5cad2" stroke-width="1.0"/>
<rect x="228.8" y="22.50" width="67.6" height="5.4" fill="#a8351c" stroke="#555" stroke-width="0.3"/>
<rect x="228.8" y="30.20" width="22.9" height="5.4" fill="#a8351c" stroke="#555" stroke-width="0.3"/>
<rect x="228.8" y="37.90" width="19.4" height="5.4" fill="#a8351c" stroke="#555" stroke-width="0.3"/>
<rect x="228.8" y="45.60" width="13.7" height="5.4" fill="#e06420" stroke="#555" stroke-width="0.3"/>
<rect x="228.8" y="53.30" width="8.5" height="5.4" fill="#d85a20" stroke="#555" stroke-width="0.3"/>
<rect x="228.8" y="61.00" width="7.4" height="5.4" fill="#f7962b" stroke="#555" stroke-width="0.3"/>
<rect x="228.8" y="68.70" width="7.2" height="5.4" fill="#f7962b" stroke="#555" stroke-width="0.3"/>
<rect x="228.8" y="76.40" width="6.7" height="5.4" fill="#f7962b" stroke="#555" stroke-width="0.3"/>
<rect x="228.8" y="84.10" width="6.4" height="5.4" fill="#f7962b" stroke="#555" stroke-width="0.3"/>
<rect x="228.8" y="91.80" width="4.5" height="5.4" fill="#f9bd45" stroke="#555" stroke-width="0.3"/>
<rect x="228.8" y="99.50" width="4.5" height="5.4" fill="#f9bd45" stroke="#555" stroke-width="0.3"/>
<rect x="228.8" y="107.20" width="4.5" height="5.4" fill="#f9bd45" stroke="#555" stroke-width="0.3"/>
<rect x="228.8" y="114.90" width="4.5" height="5.4" fill="#f9bd45" stroke="#555" stroke-width="0.3"/>
<rect x="228.8" y="122.60" width="4.5" height="5.4" fill="#f9bd45" stroke="#555" stroke-width="0.3"/>
<rect x="228.8" y="130.30" width="4.5" height="5.4" fill="#f9bd45" stroke="#555" stroke-width="0.3"/>
<rect x="228.8" y="138.00" width="4.5" height="5.4" fill="#f9bd45" stroke="#555" stroke-width="0.3"/>
<rect x="228.8" y="145.70" width="4.2" height="5.4" fill="#f9bd45" stroke="#555" stroke-width="0.3"/>
<rect x="228.8" y="153.40" width="3.7" height="5.4" fill="#f9bd45" stroke="#555" stroke-width="0.3"/>
<rect x="228.8" y="161.10" width="3.4" height="5.4" fill="#f9bd45" stroke="#555" stroke-width="0.3"/>
<rect x="228.8" y="168.80" width="3.2" height="5.4" fill="#f9bd45" stroke="#555" stroke-width="0.3"/>
<rect x="228.8" y="176.50" width="2.9" height="5.4" fill="#f6e08a" stroke="#555" stroke-width="0.3"/>
<rect x="228.8" y="184.20" width="2.9" height="5.4" fill="#f6e08a" stroke="#555" stroke-width="0.3"/>
<text x="302.2" y="27.8" font-size="7.6" textLength="144.8" lengthAdjust="spacingAndGlyphs" fill="#2a2a2a">R-HSA-72613: Eukaryotic Translation Initiation</text>
<text x="302.2" y="35.52" font-size="7.6" textLength="115.1" lengthAdjust="spacingAndGlyphs" fill="#2a2a2a">GO:0002181: cytoplasmic translation</text>
<text x="302.2" y="43.24" font-size="7.6" textLength="161.6" lengthAdjust="spacingAndGlyphs" fill="#2a2a2a">GO:0022613: ribonucleoprotein complex biogenesis</text>
<text x="302.2" y="50.96" font-size="7.6" textLength="157.6" lengthAdjust="spacingAndGlyphs" fill="#2a2a2a">GO:0022618: ribonucleoprotein complex assembly</text>
<text x="302.2" y="58.68" font-size="7.6" textLength="74.1" lengthAdjust="spacingAndGlyphs" fill="#2a2a2a">R-HSA-69242: S Phase</text>
<text x="302.2" y="66.4" font-size="7.6" textLength="184.0" lengthAdjust="spacingAndGlyphs" fill="#2a2a2a">CORUM:5266: TNF-alpha/NF-kappa B signaling complex 6</text>
<text x="302.2" y="74.12" font-size="7.6" textLength="146.3" lengthAdjust="spacingAndGlyphs" fill="#2a2a2a">GO:0044772: mitotic cell cycle phase transition</text>
<text x="302.2" y="81.84" font-size="7.6" textLength="153.0" lengthAdjust="spacingAndGlyphs" fill="#2a2a2a">GO:0042274: ribosomal small subunit biogenesis</text>
<text x="302.2" y="89.56" font-size="7.6" textLength="117.1" lengthAdjust="spacingAndGlyphs" fill="#2a2a2a">GO:0006417: regulation of translation</text>
<text x="302.2" y="97.28" font-size="7.6" textLength="118.6" lengthAdjust="spacingAndGlyphs" fill="#2a2a2a">hsa05169: Epstein-Barr virus infection</text>
<text x="302.2" y="105.0" font-size="7.6" textLength="87.0" lengthAdjust="spacingAndGlyphs" fill="#2a2a2a">GO:0017038: protein import</text>
<text x="302.2" y="112.72" font-size="7.6" textLength="213.8" lengthAdjust="spacingAndGlyphs" fill="#2a2a2a">R-HSA-168643: Nucleotide-binding domain, NLR signaling pathways</text>
<text x="302.2" y="120.44" font-size="7.6" textLength="151.4" lengthAdjust="spacingAndGlyphs" fill="#2a2a2a">GO:0046653: tetrahydrofolate metabolic process</text>
<text x="302.2" y="128.16" font-size="7.6" textLength="206.8" lengthAdjust="spacingAndGlyphs" fill="#2a2a2a">GO:1904029: regulation of cyclin-dependent protein kinase activity</text>
<text x="302.2" y="135.88" font-size="7.6" textLength="168.2" lengthAdjust="spacingAndGlyphs" fill="#2a2a2a">R-HSA-70895: Branched-chain amino acid catabolism</text>
<text x="302.2" y="143.6" font-size="7.6" textLength="188.5" lengthAdjust="spacingAndGlyphs" fill="#2a2a2a">GO:0009123: nucleoside monophosphate metabolic process</text>
<text x="302.2" y="151.32" font-size="7.6" textLength="92.5" lengthAdjust="spacingAndGlyphs" fill="#2a2a2a">GO:0006260: DNA replication</text>
<text x="302.2" y="159.04000000000002" font-size="7.6" textLength="131.5" lengthAdjust="spacingAndGlyphs" fill="#2a2a2a">GO:0031647: regulation of protein stability</text>
<text x="302.2" y="166.76000000000002" font-size="7.6" textLength="129.5" lengthAdjust="spacingAndGlyphs" fill="#2a2a2a">M261: PID P53 REGULATION PATHWAY</text>
<text x="302.2" y="174.48000000000002" font-size="7.6" textLength="168.8" lengthAdjust="spacingAndGlyphs" fill="#2a2a2a">CORUM:3047: Parvulin-associated pre-rRNP complex</text>
<text x="302.2" y="182.20000000000002" font-size="7.6" textLength="194.3" lengthAdjust="spacingAndGlyphs" fill="#2a2a2a">R-HSA-6790901: rRNA modification in the nucleus and cytosol</text>
<text x="302.2" y="189.92000000000002" font-size="7.6" textLength="172.1" lengthAdjust="spacingAndGlyphs" fill="#2a2a2a">hsa04141: Protein processing in endoplasmic reticulum</text>
<line x1="229.5" y1="192.8" x2="229.5" y2="195" stroke="#231f20" stroke-width="0.7"/>
<line x1="237.5" y1="192.8" x2="237.5" y2="195" stroke="#231f20" stroke-width="0.7"/>
<line x1="245.5" y1="192.8" x2="245.5" y2="195" stroke="#231f20" stroke-width="0.7"/>
<line x1="253.5" y1="192.8" x2="253.5" y2="195" stroke="#231f20" stroke-width="0.7"/>
<line x1="261.5" y1="192.8" x2="261.5" y2="195" stroke="#231f20" stroke-width="0.7"/>
<line x1="269.5" y1="192.8" x2="269.5" y2="195" stroke="#231f20" stroke-width="0.7"/>
<line x1="277.5" y1="192.8" x2="277.5" y2="195" stroke="#231f20" stroke-width="0.7"/>
<line x1="285.5" y1="192.8" x2="285.5" y2="195" stroke="#231f20" stroke-width="0.7"/>
<line x1="293.5" y1="192.8" x2="293.5" y2="195" stroke="#231f20" stroke-width="0.7"/>
<text x="229.5" y="203.1" font-size="7.1" text-anchor="middle" fill="#231f20">0</text>
<text x="245.5" y="203.1" font-size="7.1" text-anchor="middle" fill="#231f20">20</text>
<text x="261.5" y="203.1" font-size="7.1" text-anchor="middle" fill="#231f20">40</text>
<text x="277.5" y="203.1" font-size="7.1" text-anchor="middle" fill="#231f20">60</text>
<text x="293.5" y="203.1" font-size="7.1" text-anchor="middle" fill="#231f20">80</text>
<text x="247.7" y="215.3" font-size="8" font-weight="bold" textLength="26" lengthAdjust="spacingAndGlyphs" fill="#2a2a2a">-log10(P)</text>
<text x="306.2" y="241.7" font-size="8.3" textLength="24.6" lengthAdjust="spacingAndGlyphs" fill="#231f20">GSEA</text>
<text x="335.7" y="241.7" font-size="8.3" textLength="32" lengthAdjust="spacingAndGlyphs" fill="#231f20">- Rps14</text>
<text x="370" y="238.3" font-size="4.6" textLength="5.4" lengthAdjust="spacingAndGlyphs" fill="#231f20">+/-</text>
<text x="380.8" y="241.7" font-size="8.3" textLength="38.5" lengthAdjust="spacingAndGlyphs" fill="#231f20">Vs Rps14</text>
<text x="420.6" y="238.3" font-size="4.6" textLength="7.3" lengthAdjust="spacingAndGlyphs" fill="#231f20">+/+</text>
<line x1="249.7" y1="246.8" x2="501" y2="246.8" stroke="#2a2a2a" stroke-width="1.2"/>
<text x="252.7" y="270.8" font-size="10.6" font-weight="bold" textLength="6.4" lengthAdjust="spacingAndGlyphs" fill="#111">E</text>
<text x="282.5" y="270.4" font-size="9.3" textLength="59.6" lengthAdjust="spacingAndGlyphs" fill="#231f20">WNT Signaling</text>
<line x1="258.5" y1="274.2" x2="374.2" y2="274.2" stroke="#2a2a2a" stroke-width="1.2"/>
<text x="300.4" y="288.7" font-size="7.3" textLength="35" lengthAdjust="spacingAndGlyphs" fill="#231f20">PHZ Stress</text>
<line x1="267.7" y1="337.27500000000003" x2="374.2" y2="337.27500000000003" stroke="#e4e4e4" stroke-width="0.9"/>
<line x1="267.7" y1="321.95000000000005" x2="374.2" y2="321.95000000000005" stroke="#e4e4e4" stroke-width="0.9"/>
<line x1="267.7" y1="306.625" x2="374.2" y2="306.625" stroke="#e4e4e4" stroke-width="0.9"/>
<line x1="298.3" y1="297" x2="298.3" y2="371" stroke="#e4e4e4" stroke-width="0.9"/>
<line x1="325" y1="297" x2="325" y2="371" stroke="#e4e4e4" stroke-width="0.9"/>
<line x1="351.6" y1="297" x2="351.6" y2="371" stroke="#e4e4e4" stroke-width="0.9"/>
<line x1="267.7" y1="297.1" x2="374.2" y2="297.1" stroke="#f2a9b0" stroke-width="1.1"/>
<text x="266.7" y="308.725" font-size="6" text-anchor="end" textLength="11.5" lengthAdjust="spacingAndGlyphs" fill="#444">0.75</text>
<text x="266.7" y="324.05000000000007" font-size="6" text-anchor="end" textLength="11.5" lengthAdjust="spacingAndGlyphs" fill="#444">0.50</text>
<text x="266.7" y="339.37500000000006" font-size="6" text-anchor="end" textLength="11.5" lengthAdjust="spacingAndGlyphs" fill="#444">0.25</text>
<text x="266.7" y="354.70000000000005" font-size="6" text-anchor="end" textLength="2.7" lengthAdjust="spacingAndGlyphs" fill="#444">0</text>
<polyline points="272.6,352.6 272.6,297 365.3,351" fill="none" stroke="#52b84f" stroke-width="1.1"/>
<text transform="translate(248.8,324.2) rotate(-90)" font-size="9.4" font-weight="bold" text-anchor="middle" fill="#2a2a2a" textLength="17" lengthAdjust="spacingAndGlyphs">DMSO</text>
<text x="277.7" y="336.5" font-size="7.4" textLength="33.3" lengthAdjust="spacingAndGlyphs" fill="#231f20">NES=1.69</text>
<text x="279.2" y="345.8" font-size="7.4" textLength="23.1" lengthAdjust="spacingAndGlyphs" fill="#231f20">p=0.02</text>
<line x1="354.9" y1="334.2" x2="354.9" y2="310.2" stroke="#231f20" stroke-width="1.3"/>
<polygon points="354.9,302.2 351.2,312.7 354.9,310.7 358.59999999999997,312.7" fill="#111"/>
<line x1="265" y1="352.6" x2="374.2" y2="352.6" stroke="#231f20" stroke-width="0.9"/>
<path d="M273.0 348.6v7.8M273.6 348.6v7.8M274.6 348.6v7.8M274.7 348.6v7.8M276.0 348.6v7.8M276.6 348.6v7.8M279.1 348.6v7.8M282.2 348.6v7.8M282.5 348.6v7.8M283.4 348.6v7.8M283.5 348.6v7.8M284.5 348.6v7.8M285.1 348.6v7.8M285.7 348.6v7.8M286.0 348.6v7.8M286.5 348.6v7.8M287.3 348.6v7.8M289.4 348.6v7.8M289.8 348.6v7.8M292.2 348.6v7.8M293.1 348.6v7.8M293.4 348.6v7.8M304.0 348.6v7.8M304.7 348.6v7.8M305.0 348.6v7.8M306.5 348.6v7.8M313.3 348.6v7.8M314.2 348.6v7.8M317.9 348.6v7.8M319.1 348.6v7.8M319.3 348.6v7.8M319.9 348.6v7.8M321.9 348.6v7.8M322.8 348.6v7.8M323.2 348.6v7.8M323.4 348.6v7.8M324.2 348.6v7.8M324.6 348.6v7.8M327.5 348.6v7.8M328.0 348.6v7.8M329.0 348.6v7.8M330.4 348.6v7.8M332.1 348.6v7.8M332.1 348.6v7.8M335.7 348.6v7.8M335.7 348.6v7.8M338.5 348.6v7.8M340.4 348.6v7.8M340.8 348.6v7.8M350.0 348.6v7.8M351.0 348.6v7.8M351.2 348.6v7.8M352.8 348.6v7.8M353.6 348.6v7.8M355.4 348.6v7.8M356.3 348.6v7.8M358.5 348.6v7.8M360.5 348.6v7.8M361.4 348.6v7.8M362.3 348.6v7.8M363.2 348.6v7.8M367.0 348.6v7.8M368.3 348.6v7.8M368.9 348.6v7.8" stroke="#111" stroke-width="0.95" opacity="0.9"/>
<text x="273.8" y="360.6" font-size="6" text-anchor="middle" textLength="2.8" lengthAdjust="spacingAndGlyphs" fill="#444">0</text>
<text x="301" y="360.6" font-size="6" text-anchor="middle" textLength="14.3" lengthAdjust="spacingAndGlyphs" fill="#444">5000</text>
<text x="326.2" y="360.6" font-size="6" text-anchor="middle" textLength="17" lengthAdjust="spacingAndGlyphs" fill="#444">10000</text>
<text x="352.1" y="360.6" font-size="6" text-anchor="middle" textLength="17.2" lengthAdjust="spacingAndGlyphs" fill="#444">15000</text>
<line x1="267.7" y1="384.84000000000003" x2="374.2" y2="384.84000000000003" stroke="#e4e4e4" stroke-width="0.9"/>
<line x1="267.7" y1="398.88" x2="374.2" y2="398.88" stroke="#e4e4e4" stroke-width="0.9"/>
<line x1="267.7" y1="412.92" x2="374.2" y2="412.92" stroke="#e4e4e4" stroke-width="0.9"/>
<line x1="272.3" y1="372" x2="272.3" y2="427" stroke="#e4e4e4" stroke-width="0.9"/>
<line x1="298.3" y1="372" x2="298.3" y2="427" stroke="#e4e4e4" stroke-width="0.9"/>
<line x1="325" y1="372" x2="325" y2="427" stroke="#e4e4e4" stroke-width="0.9"/>
<line x1="351.6" y1="372" x2="351.6" y2="427" stroke="#e4e4e4" stroke-width="0.9"/>
<line x1="267.7" y1="427.1" x2="374.2" y2="427.1" stroke="#f2a9b0" stroke-width="1.1"/>
<line x1="267.7" y1="371.3" x2="374.2" y2="371.3" stroke="#6b3b40" stroke-width="0.9"/>
<text x="266.4" y="372.90000000000003" font-size="6" text-anchor="end" textLength="5.3" lengthAdjust="spacingAndGlyphs" fill="#444">0.</text>
<text x="266.4" y="386.94000000000005" font-size="6" text-anchor="end" textLength="12.4" lengthAdjust="spacingAndGlyphs" fill="#444">−0.2</text>
<text x="266.4" y="400.98" font-size="6" text-anchor="end" textLength="12.4" lengthAdjust="spacingAndGlyphs" fill="#444">−0.4</text>
<text x="266.4" y="415.02000000000004" font-size="6" text-anchor="end" textLength="12.4" lengthAdjust="spacingAndGlyphs" fill="#444">−0.6</text>
<text x="266.4" y="429.06000000000006" font-size="6" text-anchor="end" textLength="12.4" lengthAdjust="spacingAndGlyphs" fill="#444">−0.8</text>
<polyline points="273,370.8 284.6,374.6 298.5,383 358.7,422.7 365.3,426.7 369.3,423.8 369.7,371.5" fill="none" stroke="#52b84f" stroke-width="1.1"/>
<text transform="translate(249.0,402.8) rotate(-90)" font-size="9.4" font-weight="bold" text-anchor="middle" fill="#2a2a2a" textLength="31.5" lengthAdjust="spacingAndGlyphs">IMIQUIMOD</text>
<text x="277.7" y="412" font-size="7.4" textLength="35.3" lengthAdjust="spacingAndGlyphs" fill="#231f20">NES=-2.28</text>
<text x="277.7" y="421.6" font-size="7.4" textLength="23.1" lengthAdjust="spacingAndGlyphs" fill="#231f20">p=0.05</text>
<line x1="354.9" y1="384" x2="354.9" y2="408.1" stroke="#231f20" stroke-width="1.3"/>
<polygon points="354.9,416.1 351.2,405.6 354.9,407.6 358.59999999999997,405.6" fill="#111"/>
<path d="M273.8 368.3v7.2M274.4 368.3v7.2M275.8 368.3v7.2M276.6 368.3v7.2M276.6 368.3v7.2M281.7 368.3v7.2M281.9 368.3v7.2M282.7 368.3v7.2M282.9 368.3v7.2M284.3 368.3v7.2M285.5 368.3v7.2M286.3 368.3v7.2M287.7 368.3v7.2M288.2 368.3v7.2M288.9 368.3v7.2M289.3 368.3v7.2M290.7 368.3v7.2M290.8 368.3v7.2M291.9 368.3v7.2M302.4 368.3v7.2M303.2 368.3v7.2M303.4 368.3v7.2M304.1 368.3v7.2M304.6 368.3v7.2M305.1 368.3v7.2M305.8 368.3v7.2M305.9 368.3v7.2M309.2 368.3v7.2M309.8 368.3v7.2M311.2 368.3v7.2M311.3 368.3v7.2M311.7 368.3v7.2M313.7 368.3v7.2M316.3 368.3v7.2M317.8 368.3v7.2M318.0 368.3v7.2M320.8 368.3v7.2M321.4 368.3v7.2M323.0 368.3v7.2M323.8 368.3v7.2M324.7 368.3v7.2M327.5 368.3v7.2M333.4 368.3v7.2M333.5 368.3v7.2M333.9 368.3v7.2M334.5 368.3v7.2M335.6 368.3v7.2M337.7 368.3v7.2M338.9 368.3v7.2M339.4 368.3v7.2M340.1 368.3v7.2M344.4 368.3v7.2M344.6 368.3v7.2M348.2 368.3v7.2M348.9 368.3v7.2M349.9 368.3v7.2M350.9 368.3v7.2M352.0 368.3v7.2M352.1 368.3v7.2M353.4 368.3v7.2M354.5 368.3v7.2M361.0 368.3v7.2M362.2 368.3v7.2M363.9 368.3v7.2M364.3 368.3v7.2M364.3 368.3v7.2M365.2 368.3v7.2M365.5 368.3v7.2M367.7 368.3v7.2M368.2 368.3v7.2" stroke="#111" stroke-width="0.95" opacity="0.9"/>
<text x="272.6" y="434.8" font-size="6" text-anchor="middle" textLength="2.8" lengthAdjust="spacingAndGlyphs" fill="#444">0</text>
<text x="300" y="434.8" font-size="6" text-anchor="middle" textLength="14" lengthAdjust="spacingAndGlyphs" fill="#444">5000</text>
<text x="325.2" y="434.8" font-size="6" text-anchor="middle" textLength="17.3" lengthAdjust="spacingAndGlyphs" fill="#444">10000</text>
<text x="351.2" y="434.8" font-size="6" text-anchor="middle" textLength="17.1" lengthAdjust="spacingAndGlyphs" fill="#444">15000</text>
<text x="392.5" y="270.8" font-size="10.6" font-weight="bold" textLength="6.2" lengthAdjust="spacingAndGlyphs" fill="#111">F</text>
<text x="408.8" y="270.8" font-size="9.3" textLength="88.9" lengthAdjust="spacingAndGlyphs" fill="#231f20">Inflammatory Signaling</text>
<line x1="398.3" y1="274.2" x2="513.5" y2="274.2" stroke="#2a2a2a" stroke-width="1.2"/>
<text x="432.9" y="289.2" font-size="7.3" textLength="35.6" lengthAdjust="spacingAndGlyphs" fill="#231f20">PHZ Stress</text>
<line x1="405" y1="333.36" x2="513" y2="333.36" stroke="#e4e4e4" stroke-width="0.9"/>
<line x1="404.5" y1="333.36" x2="408.5" y2="333.36" stroke="#999" stroke-width="0.8"/>
<line x1="405" y1="313.52" x2="513" y2="313.52" stroke="#e4e4e4" stroke-width="0.9"/>
<line x1="404.5" y1="313.52" x2="408.5" y2="313.52" stroke="#999" stroke-width="0.8"/>
<line x1="437.7" y1="298" x2="437.7" y2="429" stroke="#e4e4e4" stroke-width="0.9"/>
<line x1="463.3" y1="298" x2="463.3" y2="429" stroke="#e4e4e4" stroke-width="0.9"/>
<line x1="488.7" y1="298" x2="488.7" y2="429" stroke="#e4e4e4" stroke-width="0.9"/>
<line x1="405" y1="298.6" x2="513" y2="298.6" stroke="#f2a9b0" stroke-width="1.1"/>
<line x1="405" y1="356.2" x2="513" y2="356.2" stroke="#f2a9b0" stroke-width="1.1"/>
<text x="405.5" y="315.82" font-size="6.6" text-anchor="end" textLength="8.9" lengthAdjust="spacingAndGlyphs" fill="#444">0.4</text>
<text x="405.5" y="335.66" font-size="6.6" text-anchor="end" textLength="8.9" lengthAdjust="spacingAndGlyphs" fill="#444">0.2</text>
<text x="405.5" y="355.5" font-size="6.6" text-anchor="end" textLength="3.3" lengthAdjust="spacingAndGlyphs" fill="#444">0</text>
<polyline points="409.5,352.4 410.2,347.6 410.9,344.6 411.6,338.5 412.3,321.8 413.0,320.6 413.7,320.8 414.4,320.3 415.1,317.7 415.8,316.1 416.5,310.1 417.2,303.3 417.9,300.5 418.6,299.2 419.3,300.8 420.0,301.4 420.7,300.9 421.4,300.5 422.1,301.0 422.8,301.2 423.5,298.9 424.2,299.7 424.9,301.7 425.6,301.9 426.3,301.4 427.0,302.2 427.7,303.0 428.4,304.1 429.1,303.1 429.8,303.1 430.5,304.6 431.2,304.5 431.9,303.0 432.6,302.7 433.3,305.2 434.0,305.9 434.7,305.0 435.4,304.7 436.1,306.9 436.8,307.5 437.5,305.8 438.2,306.9 438.9,308.3 439.6,308.6 440.3,308.4 441.0,309.0 441.7,310.2 442.4,310.9 443.1,310.4 443.8,310.2 444.5,311.9 445.2,312.3 445.9,311.3 446.6,312.0 447.3,313.5 448.0,314.1 448.7,313.1 449.4,314.1 450.1,316.1 450.8,315.9 451.5,315.5 452.2,316.1 452.9,317.9 453.6,319.3 454.3,318.5 455.0,319.0 455.7,320.6 456.4,321.3 457.1,321.3 457.8,321.3 458.5,323.4 459.2,324.6 459.9,323.3 460.6,324.0 461.3,326.2 462.0,326.8 462.7,326.3 463.4,326.7 464.1,328.5 464.8,329.7 465.5,328.5 466.2,329.1 466.9,330.9 467.6,332.4 468.3,331.7 469.0,332.1 469.7,334.0 470.4,334.9 471.1,334.0 471.8,334.1 472.5,336.4 473.2,336.6 473.9,336.1 474.6,336.7 475.3,337.8 476.0,338.3 476.7,337.6 477.4,337.8 478.1,339.7 478.8,340.0 479.5,339.3 480.2,340.3 480.9,342.2 481.6,342.6 482.3,342.1 483.0,342.5 483.7,344.6 484.4,345.2 485.1,344.9 485.8,344.8 486.5,346.6 487.2,347.4 487.9,346.1 488.6,347.1 489.3,348.6 490.0,349.2 490.7,347.7 491.4,348.1 492.1,350.0 492.8,351.0 493.5,350.8 494.2,350.9 494.9,353.0 495.6,353.9 496.3,352.9 497.0,353.3 497.7,355.5 498.4,355.1 499.1,354.0 499.8,353.9 500.5,355.5 501.2,355.4 501.9,354.5 502.6,354.9 503.3,355.8 504.0,356.2 504.7,354.0 505.4,354.2 506.1,355.5 506.8,355.2 507.5,354.3" fill="none" stroke="#52b84f" stroke-width="1.0"/>
<text transform="translate(388.8,325.5) rotate(-90)" font-size="9.4" font-weight="bold" text-anchor="middle" fill="#2a2a2a" textLength="16.3" lengthAdjust="spacingAndGlyphs">DMSO</text>
<text x="416.9" y="338.4" font-size="7.4" textLength="33.1" lengthAdjust="spacingAndGlyphs" fill="#231f20">NES=0.99</text>
<text x="416.9" y="346.5" font-size="7.4" textLength="16.2" lengthAdjust="spacingAndGlyphs" fill="#231f20">p=ns</text>
<line x1="484.3" y1="334.2" x2="484.3" y2="310.2" stroke="#231f20" stroke-width="1.3"/>
<polygon points="484.3,302.2 480.6,312.7 484.3,310.7 488.0,312.7" fill="#111"/>
<line x1="405" y1="354.2" x2="513" y2="354.2" stroke="#231f20" stroke-width="0.9"/>
<path d="M411.0 350.3v7.2M411.2 350.3v7.2M411.3 350.3v7.2M412.7 350.3v7.2M412.7 350.3v7.2M413.3 350.3v7.2M416.5 350.3v7.2M416.5 350.3v7.2M416.8 350.3v7.2M418.6 350.3v7.2M422.6 350.3v7.2M422.9 350.3v7.2M423.6 350.3v7.2M431.2 350.3v7.2M437.4 350.3v7.2M441.6 350.3v7.2M442.5 350.3v7.2M443.6 350.3v7.2M447.6 350.3v7.2M449.3 350.3v7.2M454.7 350.3v7.2M454.8 350.3v7.2M454.8 350.3v7.2M458.9 350.3v7.2M461.1 350.3v7.2M461.4 350.3v7.2M462.1 350.3v7.2M470.0 350.3v7.2M471.6 350.3v7.2M472.0 350.3v7.2M472.6 350.3v7.2M472.6 350.3v7.2M473.0 350.3v7.2M473.7 350.3v7.2M475.3 350.3v7.2M476.1 350.3v7.2M488.5 350.3v7.2M488.5 350.3v7.2M498.4 350.3v7.2M499.0 350.3v7.2M501.8 350.3v7.2M506.4 350.3v7.2" stroke="#111" stroke-width="0.95" opacity="0.9"/>
<text x="409" y="364.2" font-size="6" text-anchor="middle" textLength="2.8" lengthAdjust="spacingAndGlyphs" fill="#444">0</text>
<text x="437.3" y="364.2" font-size="6" text-anchor="middle" textLength="14.6" lengthAdjust="spacingAndGlyphs" fill="#444">5000</text>
<text x="462.7" y="364.2" font-size="6" text-anchor="middle" textLength="16.6" lengthAdjust="spacingAndGlyphs" fill="#444">10000</text>
<text x="488.4" y="364.2" font-size="6" text-anchor="middle" textLength="17" lengthAdjust="spacingAndGlyphs" fill="#444">15000</text>
<line x1="405" y1="386.73" x2="513" y2="386.73" stroke="#e4e4e4" stroke-width="0.9"/>
<line x1="405" y1="397.66" x2="513" y2="397.66" stroke="#e4e4e4" stroke-width="0.9"/>
<line x1="405" y1="408.59000000000003" x2="513" y2="408.59000000000003" stroke="#e4e4e4" stroke-width="0.9"/>
<line x1="405" y1="419.52" x2="513" y2="419.52" stroke="#e4e4e4" stroke-width="0.9"/>
<line x1="405" y1="369.3" x2="513" y2="369.3" stroke="#f2a9b0" stroke-width="1.1"/>
<line x1="405" y1="428.7" x2="513" y2="428.7" stroke="#f2a9b0" stroke-width="1.1"/>
<text x="405.5" y="378.1" font-size="6.6" text-anchor="end" textLength="3.3" lengthAdjust="spacingAndGlyphs" fill="#444">0</text>
<text x="405.5" y="389.03000000000003" font-size="6.6" text-anchor="end" textLength="11" lengthAdjust="spacingAndGlyphs" fill="#444">-0.1</text>
<text x="405.5" y="399.96000000000004" font-size="6.6" text-anchor="end" textLength="11" lengthAdjust="spacingAndGlyphs" fill="#444">-0.2</text>
<text x="405.5" y="410.89000000000004" font-size="6.6" text-anchor="end" textLength="11" lengthAdjust="spacingAndGlyphs" fill="#444">-0.3</text>
<text x="405.5" y="421.82" font-size="6.6" text-anchor="end" textLength="11" lengthAdjust="spacingAndGlyphs" fill="#444">-0.4</text>
<polyline points="410.8,369.8 411.4,370.7 412.0,372.8 412.6,373.8 413.2,374.6 413.8,373.5 414.4,371.2 415.0,370.8 415.6,370.7 416.2,371.5 416.8,372.8 417.4,373.7 418.0,373.8 418.6,374.1 419.2,373.0 419.8,371.6 420.4,370.1 421.0,370.9 421.6,373.3 422.2,372.9 422.8,371.4 423.4,370.6 424.0,370.8 424.6,370.2 425.2,370.0 425.8,370.6 426.4,372.3 427.0,372.6 427.6,372.7 428.2,373.0 428.8,374.8 429.4,375.4 430.0,375.2 430.6,375.4 431.2,376.8 431.8,377.5 432.4,377.2 433.0,377.1 433.6,378.7 434.2,379.3 434.8,378.9 435.4,379.1 436.0,380.5 436.6,381.0 437.2,380.6 437.8,380.9 438.4,382.2 439.0,382.6 439.6,382.6 440.2,382.7 440.8,383.9 441.4,384.4 442.0,384.5 442.6,384.6 443.2,386.0 443.8,386.4 444.4,386.4 445.0,386.6 445.6,387.7 446.2,388.0 446.8,388.3 447.4,388.2 448.0,389.6 448.6,390.2 449.2,390.2 449.8,390.5 450.4,391.6 451.0,392.4 451.6,392.2 452.2,392.4 452.8,393.7 453.4,394.4 454.0,394.2 454.6,394.4 455.2,396.0 455.8,396.5 456.4,396.1 457.0,396.9 457.6,397.8 458.2,398.6 458.8,398.1 459.4,398.7 460.0,400.0 460.6,400.8 461.2,400.2 461.8,401.1 462.4,402.3 463.0,402.7 463.6,402.7 464.2,403.2 464.8,404.2 465.4,404.9 466.0,405.0 466.6,405.3 467.2,406.3 467.8,407.3 468.4,406.8 469.0,407.7 469.6,408.9 470.2,409.1 470.8,409.0 471.4,409.5 472.0,410.8 472.6,411.4 473.2,411.5 473.8,412.4 474.4,413.9 475.0,414.1 475.6,414.0 476.2,415.1 476.8,416.3 477.4,417.0 478.0,417.3 478.6,417.9 479.2,419.0 479.8,419.7 480.4,419.4 481.0,419.9 481.6,421.4 482.2,422.3 482.8,422.4 483.4,422.6 484.0,424.1 484.6,425.1 485.2,424.7 485.8,425.5 486.4,426.5 487.0,427.2 487.6,426.2 488.2,425.6 488.8,427.0 489.4,426.3 490.0,423.7 490.6,422.5 491.2,424.3 491.8,424.3 492.4,420.3 493.0,419.1 493.6,421.4 494.2,421.2 494.8,417.3 495.4,416.3 496.0,418.2 496.6,417.7 497.2,413.0 497.8,413.1 498.4,413.4 499.0,412.9 499.6,408.8 500.2,408.1 500.8,409.3 501.4,409.2 502.0,405.3 502.6,402.8 503.2,401.3 503.8,398.6 504.4,393.4 505.0,390.7 505.6,389.3 506.2,385.9 506.8,378.9 507.4,376.2 508.0,375.8" fill="none" stroke="#52b84f" stroke-width="1.0"/>
<text transform="translate(388.8,403.5) rotate(-90)" font-size="9.4" font-weight="bold" text-anchor="middle" fill="#2a2a2a" textLength="31.5" lengthAdjust="spacingAndGlyphs">IMIQUIMOD</text>
<text x="416.9" y="411.5" font-size="7.4" textLength="35.4" lengthAdjust="spacingAndGlyphs" fill="#231f20">NES=-1.34</text>
<text x="416.9" y="421.5" font-size="7.4" textLength="16.1" lengthAdjust="spacingAndGlyphs" fill="#231f20">p=ns</text>
<line x1="484.3" y1="384" x2="484.3" y2="408.1" stroke="#231f20" stroke-width="1.3"/>
<polygon points="484.3,416.1 480.6,405.6 484.3,407.6 488.0,405.6" fill="#111"/>
<line x1="405" y1="375.8" x2="513" y2="375.8" stroke="#231f20" stroke-width="0.9"/>
<path d="M410.8 372.8v7.2M411.3 372.8v7.2M411.3 372.8v7.2M412.6 372.8v7.2M412.8 372.8v7.2M413.6 372.8v7.2M416.4 372.8v7.2M421.5 372.8v7.2M422.2 372.8v7.2M422.3 372.8v7.2M430.2 372.8v7.2M438.6 372.8v7.2M439.0 372.8v7.2M441.7 372.8v7.2M442.2 372.8v7.2M445.9 372.8v7.2M446.3 372.8v7.2M447.8 372.8v7.2M452.9 372.8v7.2M452.9 372.8v7.2M455.1 372.8v7.2M455.6 372.8v7.2M455.7 372.8v7.2M455.8 372.8v7.2M464.9 372.8v7.2M465.0 372.8v7.2M465.7 372.8v7.2M477.2 372.8v7.2M478.4 372.8v7.2M478.6 372.8v7.2M479.6 372.8v7.2M481.9 372.8v7.2M481.9 372.8v7.2M489.5 372.8v7.2M489.6 372.8v7.2M489.7 372.8v7.2M489.9 372.8v7.2M491.3 372.8v7.2M491.5 372.8v7.2M492.0 372.8v7.2M493.2 372.8v7.2M496.6 372.8v7.2M497.5 372.8v7.2M497.8 372.8v7.2M499.2 372.8v7.2M500.1 372.8v7.2M501.2 372.8v7.2M503.3 372.8v7.2M503.7 372.8v7.2M504.8 372.8v7.2M504.8 372.8v7.2" stroke="#111" stroke-width="0.95" opacity="0.9"/>
<text x="411.5" y="434.6" font-size="6" text-anchor="middle" textLength="2.8" lengthAdjust="spacingAndGlyphs" fill="#444">0</text>
<text x="438.9" y="434.6" font-size="6" text-anchor="middle" textLength="14.7" lengthAdjust="spacingAndGlyphs" fill="#444">5000</text>
<text x="463" y="434.6" font-size="6" text-anchor="middle" textLength="17.3" lengthAdjust="spacingAndGlyphs" fill="#444">10000</text>
<text x="488.7" y="434.6" font-size="6" text-anchor="middle" textLength="17.7" lengthAdjust="spacingAndGlyphs" fill="#444">15000</text>
<text x="16" y="489.7" font-size="10.8" font-weight="bold" textLength="8.2" lengthAdjust="spacingAndGlyphs" fill="#111">G</text>
<text x="68.8" y="489.7" font-size="9.3" textLength="109" lengthAdjust="spacingAndGlyphs" fill="#231f20">NFκB:GFP Expression 4dpf</text>
<line x1="35.8" y1="505.5" x2="35.8" y2="631.7" stroke="#231f20" stroke-width="1.1"/>
<line x1="35.3" y1="631.1" x2="223.3" y2="631.1" stroke="#231f20" stroke-width="1.1"/>
<line x1="29.9" y1="631.2" x2="35.8" y2="631.2" stroke="#231f20" stroke-width="0.9"/>
<text x="28.6" y="633.8000000000001" font-size="7.3" text-anchor="end" fill="#231f20">0</text>
<line x1="29.9" y1="606.2" x2="35.8" y2="606.2" stroke="#231f20" stroke-width="0.9"/>
<text x="28.6" y="608.8000000000001" font-size="7.3" text-anchor="end" fill="#231f20">5</text>
<line x1="29.9" y1="581.2" x2="35.8" y2="581.2" stroke="#231f20" stroke-width="0.9"/>
<text x="28.6" y="583.8000000000001" font-size="7.3" text-anchor="end" fill="#231f20">10</text>
<line x1="29.9" y1="556.2" x2="35.8" y2="556.2" stroke="#231f20" stroke-width="0.9"/>
<text x="28.6" y="558.8000000000001" font-size="7.3" text-anchor="end" fill="#231f20">15</text>
<line x1="29.9" y1="531.2" x2="35.8" y2="531.2" stroke="#231f20" stroke-width="0.9"/>
<text x="28.6" y="533.8000000000001" font-size="7.3" text-anchor="end" fill="#231f20">20</text>
<line x1="29.9" y1="506.20000000000005" x2="35.8" y2="506.20000000000005" stroke="#231f20" stroke-width="0.9"/>
<text x="28.6" y="508.80000000000007" font-size="7.3" text-anchor="end" fill="#231f20">25</text>
<text transform="translate(12.9,562.7) rotate(-90)" font-size="8.2" text-anchor="middle" fill="#231f20" stroke="#231f20" stroke-width="0.18" textLength="82.5" lengthAdjust="spacingAndGlyphs">Fluorescence Intensity (x10<tspan dy="-2.6" font-size="4.6">6</tspan><tspan dy="2.6">)</tspan></text>
<rect x="42.6" y="566.2" width="13.199999999999996" height="64.89999999999998" fill="#cc2034"/>
<rect x="62" y="568.2" width="13.5" height="62.89999999999998" fill="#1a5088"/>
<rect x="88.75" y="561.2" width="13.75" height="69.89999999999998" fill="#cc2034"/>
<rect x="108" y="568.7" width="14" height="62.39999999999998" fill="#1a5088"/>
<rect x="135.4" y="550.2" width="12.900000000000006" height="80.89999999999998" fill="#cc2034"/>
<rect x="155.4" y="551.2" width="12.699999999999989" height="79.89999999999998" fill="#1a5088"/>
<rect x="181.9" y="547.7" width="12.900000000000006" height="83.39999999999998" fill="#cc2034"/>
<rect x="202.1" y="557.2" width="12.5" height="73.89999999999998" fill="#1a5088"/>
<path d="M47.8 566.7h0M50.3 572.6h0M43.8 564.9h0M52.9 564.9h0M54.7 566.0h0M48.9 569.9h0M50.7 569.2h0M45.4 561.2h0M49.5 559.4h0M51.9 558.5h0M52.0 565.3h0M50.2 564.6h0M53.2 565.8h0M48.9 567.4h0M51.6 564.2h0M53.8 555.9h0M48.6 559.0h0M54.0 571.8h0M48.0 551.5h0M48.1 548.5h0M68.0 570.6h0M70.1 579.5h0M67.5 566.5h0M67.1 573.2h0M73.2 563.1h0M70.8 565.2h0M74.2 576.1h0M70.6 564.4h0M73.9 572.8h0M73.2 575.8h0M65.6 561.8h0M72.4 565.2h0M63.9 564.9h0M72.6 566.6h0M72.1 570.1h0M67.8 568.1h0M67.3 554.8h0M91.4 557.6h0M96.8 563.0h0M96.6 561.5h0M96.2 557.5h0M92.7 563.9h0M90.5 559.7h0M96.0 563.0h0M100.6 561.3h0M93.0 564.3h0M97.7 560.6h0M94.1 564.7h0M91.6 560.8h0M99.7 563.6h0M94.4 558.3h0M91.3 565.1h0M100.8 556.9h0M97.1 562.4h0M98.0 558.4h0M93.0 565.0h0M93.5 559.6h0M94.2 548.0h0M95.4 545.0h0M116.3 567.9h0M116.5 568.3h0M114.6 574.3h0M117.0 570.9h0M117.6 564.7h0M109.7 574.0h0M120.1 574.6h0M112.3 571.1h0M113.0 563.2h0M113.5 570.2h0M116.1 567.1h0M112.8 572.5h0M109.8 563.4h0M115.8 573.8h0M114.4 556.5h0M139.0 551.7h0M138.4 558.8h0M137.5 543.4h0M139.9 553.1h0M141.2 545.6h0M145.8 558.1h0M143.5 552.3h0M146.1 554.0h0M137.7 546.9h0M141.3 537.5h0M165.4 552.3h0M160.0 542.4h0M165.4 546.7h0M162.7 557.1h0M160.9 554.7h0M161.4 541.7h0M163.2 550.1h0M156.6 549.6h0M160.7 538.1h0M160.3 535.1h0M193.2 553.8h0M187.6 558.2h0M193.3 537.8h0M191.1 550.8h0M192.1 546.2h0M186.0 544.6h0M186.6 542.6h0M189.3 548.0h0M186.0 549.5h0M192.8 548.2h0M190.5 546.3h0M189.5 534.7h0M203.0 564.2h0M211.0 552.1h0M210.1 559.8h0M208.6 562.1h0M209.6 543.8h0M206.6 565.3h0M208.1 557.0h0M211.5 570.3h0M208.7 554.6h0M211.8 560.7h0M213.0 562.7h0M211.7 567.5h0M209.8 557.6h0M212.3 556.5h0M205.8 562.2h0M208.6 558.8h0M211.4 550.6h0M209.4 541.0h0" stroke="#c9c9c9" stroke-width="2.1" stroke-linecap="square" fill="none"/>
<line x1="49.2" y1="555.5" x2="49.2" y2="574" stroke="#231f20" stroke-width="1.0"/>
<line x1="45.6" y1="555.5" x2="52.800000000000004" y2="555.5" stroke="#231f20" stroke-width="1.1"/>
<line x1="45.6" y1="574" x2="52.800000000000004" y2="574" stroke="#231f20" stroke-width="1.1"/>
<line x1="49.2" y1="631.1" x2="49.2" y2="636" stroke="#231f20" stroke-width="0.9"/>
<line x1="68.75" y1="558.75" x2="68.75" y2="575" stroke="#231f20" stroke-width="1.0"/>
<line x1="65.15" y1="558.75" x2="72.35" y2="558.75" stroke="#231f20" stroke-width="1.1"/>
<line x1="65.15" y1="575" x2="72.35" y2="575" stroke="#231f20" stroke-width="1.1"/>
<line x1="68.75" y1="631.1" x2="68.75" y2="636" stroke="#231f20" stroke-width="0.9"/>
<line x1="95.625" y1="552" x2="95.625" y2="566" stroke="#231f20" stroke-width="1.0"/>
<line x1="92.025" y1="552" x2="99.225" y2="552" stroke="#231f20" stroke-width="1.1"/>
<line x1="92.025" y1="566" x2="99.225" y2="566" stroke="#231f20" stroke-width="1.1"/>
<line x1="95.625" y1="631.1" x2="95.625" y2="636" stroke="#231f20" stroke-width="0.9"/>
<line x1="115.0" y1="560.5" x2="115.0" y2="576" stroke="#231f20" stroke-width="1.0"/>
<line x1="111.4" y1="560.5" x2="118.6" y2="560.5" stroke="#231f20" stroke-width="1.1"/>
<line x1="111.4" y1="576" x2="118.6" y2="576" stroke="#231f20" stroke-width="1.1"/>
<line x1="115.0" y1="631.1" x2="115.0" y2="636" stroke="#231f20" stroke-width="0.9"/>
<line x1="141.85000000000002" y1="541.5" x2="141.85000000000002" y2="559" stroke="#231f20" stroke-width="1.0"/>
<line x1="138.25000000000003" y1="541.5" x2="145.45000000000002" y2="541.5" stroke="#231f20" stroke-width="1.1"/>
<line x1="138.25000000000003" y1="559" x2="145.45000000000002" y2="559" stroke="#231f20" stroke-width="1.1"/>
<line x1="141.85000000000002" y1="631.1" x2="141.85000000000002" y2="636" stroke="#231f20" stroke-width="0.9"/>
<line x1="161.75" y1="542.1" x2="161.75" y2="560" stroke="#231f20" stroke-width="1.0"/>
<line x1="158.15" y1="542.1" x2="165.35" y2="542.1" stroke="#231f20" stroke-width="1.1"/>
<line x1="158.15" y1="560" x2="165.35" y2="560" stroke="#231f20" stroke-width="1.1"/>
<line x1="161.75" y1="631.1" x2="161.75" y2="636" stroke="#231f20" stroke-width="0.9"/>
<line x1="188.35000000000002" y1="538.7" x2="188.35000000000002" y2="556.5" stroke="#231f20" stroke-width="1.0"/>
<line x1="184.75000000000003" y1="538.7" x2="191.95000000000002" y2="538.7" stroke="#231f20" stroke-width="1.1"/>
<line x1="184.75000000000003" y1="556.5" x2="191.95000000000002" y2="556.5" stroke="#231f20" stroke-width="1.1"/>
<line x1="188.35000000000002" y1="631.1" x2="188.35000000000002" y2="636" stroke="#231f20" stroke-width="0.9"/>
<line x1="208.35" y1="545" x2="208.35" y2="569" stroke="#231f20" stroke-width="1.0"/>
<line x1="204.75" y1="545" x2="211.95" y2="545" stroke="#231f20" stroke-width="1.1"/>
<line x1="204.75" y1="569" x2="211.95" y2="569" stroke="#231f20" stroke-width="1.1"/>
<line x1="208.35" y1="631.1" x2="208.35" y2="636" stroke="#231f20" stroke-width="0.9"/>
<polyline points="48.4,511.8 48.4,506.2 141.9,506.2 141.9,511.8" fill="none" stroke="#231f20" stroke-width="1.0"/>
<text x="96.1" y="503.6" font-size="7" text-anchor="middle" textLength="32" lengthAdjust="spacingAndGlyphs" fill="#231f20">p=0.0013</text>
<polyline points="48.4,524.3 48.4,520.3 68.8,520.3 68.8,524.3" fill="none" stroke="#231f20" stroke-width="1.0"/>
<text x="58.2" y="517.4" font-size="7" text-anchor="middle" textLength="7" lengthAdjust="spacingAndGlyphs" fill="#231f20">ns</text>
<polyline points="95,524.3 95,520.3 115.5,520.3 115.5,524.3" fill="none" stroke="#231f20" stroke-width="1.0"/>
<text x="106.2" y="517.4" font-size="7" text-anchor="middle" textLength="32" lengthAdjust="spacingAndGlyphs" fill="#231f20">p=0.0081</text>
<polyline points="141.9,524.3 141.9,520.3 162.3,520.3 162.3,524.3" fill="none" stroke="#231f20" stroke-width="1.0"/>
<text x="155.8" y="517.4" font-size="7" text-anchor="middle" textLength="7.5" lengthAdjust="spacingAndGlyphs" fill="#231f20">ns</text>
<polyline points="188.7,524.3 188.7,520.3 208.3,520.3 208.3,524.3" fill="none" stroke="#231f20" stroke-width="1.0"/>
<text x="199.4" y="517.4" font-size="7" text-anchor="middle" textLength="32" lengthAdjust="spacingAndGlyphs" fill="#231f20">p=0.0260</text>
<rect x="222.6" y="503" width="11.7" height="6.5" fill="#cc2034"/>
<text x="237" y="508" font-size="7.6" textLength="21" lengthAdjust="spacingAndGlyphs" fill="#231f20">Rps14</text>
<text x="258" y="504" font-size="4.6" textLength="6.8" lengthAdjust="spacingAndGlyphs" fill="#231f20">+/+</text>
<rect x="220.8" y="516.5" width="11.2" height="6.5" fill="#1a5088"/>
<text x="237" y="521.8" font-size="7.6" textLength="21" lengthAdjust="spacingAndGlyphs" fill="#231f20">Rps14</text>
<text x="258" y="518" font-size="4.6" textLength="5.5" lengthAdjust="spacingAndGlyphs" fill="#231f20">+/-</text>
<text x="31.2" y="643.1" font-size="7.3" text-anchor="end" textLength="13.9" lengthAdjust="spacingAndGlyphs" fill="#231f20">PHZ</text>
<text x="30.9" y="652.3" font-size="7.3" text-anchor="end" textLength="9.2" lengthAdjust="spacingAndGlyphs" fill="#231f20">IMI</text>
<text x="49.2" y="642.1" font-size="7.3" text-anchor="middle" fill="#231f20">-</text>
<text x="49.2" y="651.6" font-size="7.3" text-anchor="middle" fill="#231f20">-</text>
<text x="68.8" y="642.1" font-size="7.3" text-anchor="middle" fill="#231f20">-</text>
<text x="68.8" y="651.6" font-size="7.3" text-anchor="middle" fill="#231f20">-</text>
<text x="95.6" y="642.1" font-size="7.3" text-anchor="middle" fill="#231f20">-</text>
<text x="95.6" y="652.9" font-size="8.2" text-anchor="middle" fill="#231f20">+</text>
<text x="115" y="642.1" font-size="7.3" text-anchor="middle" fill="#231f20">-</text>
<text x="115" y="652.9" font-size="8.2" text-anchor="middle" fill="#231f20">+</text>
<text x="141.9" y="643.4" font-size="8.2" text-anchor="middle" fill="#231f20">+</text>
<text x="141.9" y="651.6" font-size="7.3" text-anchor="middle" fill="#231f20">-</text>
<text x="161.7" y="643.4" font-size="8.2" text-anchor="middle" fill="#231f20">+</text>
<text x="161.7" y="651.6" font-size="7.3" text-anchor="middle" fill="#231f20">-</text>
<text x="188.4" y="643.4" font-size="8.2" text-anchor="middle" fill="#231f20">+</text>
<text x="188.4" y="652.9" font-size="8.2" text-anchor="middle" fill="#231f20">+</text>
<text x="208.3" y="643.4" font-size="8.2" text-anchor="middle" fill="#231f20">+</text>
<text x="208.3" y="652.9" font-size="8.2" text-anchor="middle" fill="#231f20">+</text>
<text x="329.7" y="466.1" font-size="9.2" textLength="109" lengthAdjust="spacingAndGlyphs" fill="#231f20">Il1β mRNA Expression 4dpf</text>
<text x="278.8" y="481.2" font-size="10.5" font-weight="bold" textLength="7.4" lengthAdjust="spacingAndGlyphs" fill="#111">H</text>
<line x1="290.8" y1="506" x2="290.8" y2="632" stroke="#231f20" stroke-width="1.1"/>
<line x1="290.3" y1="631.4" x2="478.5" y2="631.4" stroke="#231f20" stroke-width="1.1"/>
<text x="283.8" y="634.2" font-size="7.3" text-anchor="end" fill="#231f20">0</text>
<line x1="284.8" y1="611.66" x2="290.8" y2="611.66" stroke="#231f20" stroke-width="0.9"/>
<text x="283.8" y="614.26" font-size="7.3" text-anchor="end" fill="#231f20">20</text>
<line x1="284.8" y1="591.72" x2="290.8" y2="591.72" stroke="#231f20" stroke-width="0.9"/>
<text x="283.8" y="594.32" font-size="7.3" text-anchor="end" fill="#231f20">40</text>
<line x1="284.8" y1="571.78" x2="290.8" y2="571.78" stroke="#231f20" stroke-width="0.9"/>
<text x="283.8" y="574.38" font-size="7.3" text-anchor="end" fill="#231f20">60</text>
<line x1="284.8" y1="551.84" x2="290.8" y2="551.84" stroke="#231f20" stroke-width="0.9"/>
<text x="283.8" y="554.44" font-size="7.3" text-anchor="end" fill="#231f20">80</text>
<line x1="284.8" y1="531.9" x2="290.8" y2="531.9" stroke="#231f20" stroke-width="0.9"/>
<text x="283.8" y="534.5" font-size="7.3" text-anchor="end" fill="#231f20">100</text>
<text transform="translate(270.9,573) rotate(-90)" font-size="8.2" text-anchor="middle" fill="#231f20" stroke="#231f20" stroke-width="0.18" textLength="53" lengthAdjust="spacingAndGlyphs">Percentage Larvae</text>
<rect x="296.8" y="531.9" width="12.099999999999966" height="9.471499999999992" fill="#1a5088"/>
<rect x="296.8" y="541.3715" width="12.099999999999966" height="90.22850000000005" fill="#8a7fc0"/>
<rect x="314.9" y="531.9" width="12.100000000000023" height="7.975999999999999" fill="#1a5088"/>
<rect x="314.9" y="539.876" width="12.100000000000023" height="91.72400000000005" fill="#8a7fc0"/>
<rect x="345" y="531.9" width="11.800000000000011" height="29.910000000000082" fill="#1a5088"/>
<rect x="345" y="561.8100000000001" width="11.800000000000011" height="69.78999999999996" fill="#8a7fc0"/>
<rect x="363.2" y="531.9" width="11.800000000000011" height="9.970000000000027" fill="#1a5088"/>
<rect x="363.2" y="541.87" width="11.800000000000011" height="89.73000000000002" fill="#8a7fc0"/>
<rect x="393.5" y="531.9" width="11.5" height="49.85000000000002" fill="#1a5088"/>
<rect x="393.5" y="581.75" width="11.5" height="49.85000000000002" fill="#8a7fc0"/>
<rect x="411.3" y="531.9" width="11.899999999999977" height="84.745" fill="#1a5088"/>
<rect x="411.3" y="616.645" width="11.899999999999977" height="14.955000000000041" fill="#8a7fc0"/>
<rect x="441.6" y="531.9" width="11.899999999999977" height="21.934000000000083" fill="#1a5088"/>
<rect x="441.6" y="553.8340000000001" width="11.899999999999977" height="77.76599999999996" fill="#8a7fc0"/>
<rect x="459.8" y="531.9" width="11.5" height="22.432500000000005" fill="#1a5088"/>
<rect x="459.8" y="554.3325" width="11.5" height="77.26750000000004" fill="#8a7fc0"/>
<line x1="302.85" y1="531.4" x2="302.85" y2="531.9" stroke="#231f20" stroke-width="1.0"/>
<line x1="299.65000000000003" y1="531.4" x2="306.05" y2="531.4" stroke="#231f20" stroke-width="1.1"/>
<line x1="302.85" y1="541.3" x2="302.85" y2="541.3715" stroke="#231f20" stroke-width="1.0"/>
<line x1="299.65000000000003" y1="541.3" x2="306.05" y2="541.3" stroke="#231f20" stroke-width="1.1"/>
<line x1="302.85" y1="631.4" x2="302.85" y2="637" stroke="#231f20" stroke-width="0.9"/>
<line x1="320.95" y1="530.6" x2="320.95" y2="531.9" stroke="#231f20" stroke-width="1.0"/>
<line x1="317.75" y1="530.6" x2="324.15" y2="530.6" stroke="#231f20" stroke-width="1.1"/>
<line x1="320.95" y1="540" x2="320.95" y2="539.876" stroke="#231f20" stroke-width="1.0"/>
<line x1="317.75" y1="540" x2="324.15" y2="540" stroke="#231f20" stroke-width="1.1"/>
<line x1="320.95" y1="631.4" x2="320.95" y2="637" stroke="#231f20" stroke-width="0.9"/>
<line x1="350.9" y1="521.6" x2="350.9" y2="531.9" stroke="#231f20" stroke-width="1.0"/>
<line x1="347.7" y1="521.6" x2="354.09999999999997" y2="521.6" stroke="#231f20" stroke-width="1.1"/>
<line x1="350.9" y1="551.3" x2="350.9" y2="561.8100000000001" stroke="#231f20" stroke-width="1.0"/>
<line x1="347.7" y1="551.3" x2="354.09999999999997" y2="551.3" stroke="#231f20" stroke-width="1.1"/>
<line x1="350.9" y1="631.4" x2="350.9" y2="637" stroke="#231f20" stroke-width="0.9"/>
<line x1="369.1" y1="517.9" x2="369.1" y2="531.9" stroke="#231f20" stroke-width="1.0"/>
<line x1="365.90000000000003" y1="517.9" x2="372.3" y2="517.9" stroke="#231f20" stroke-width="1.1"/>
<line x1="369.1" y1="527.7" x2="369.1" y2="541.87" stroke="#231f20" stroke-width="1.0"/>
<line x1="365.90000000000003" y1="527.7" x2="372.3" y2="527.7" stroke="#231f20" stroke-width="1.1"/>
<line x1="369.1" y1="631.4" x2="369.1" y2="637" stroke="#231f20" stroke-width="0.9"/>
<line x1="399.25" y1="520.8" x2="399.25" y2="531.9" stroke="#231f20" stroke-width="1.0"/>
<line x1="396.05" y1="520.8" x2="402.45" y2="520.8" stroke="#231f20" stroke-width="1.1"/>
<line x1="399.25" y1="571.2" x2="399.25" y2="581.75" stroke="#231f20" stroke-width="1.0"/>
<line x1="396.05" y1="571.2" x2="402.45" y2="571.2" stroke="#231f20" stroke-width="1.1"/>
<line x1="399.25" y1="631.4" x2="399.25" y2="637" stroke="#231f20" stroke-width="0.9"/>
<line x1="417.25" y1="511" x2="417.25" y2="531.9" stroke="#231f20" stroke-width="1.0"/>
<line x1="414.05" y1="511" x2="420.45" y2="511" stroke="#231f20" stroke-width="1.1"/>
<line x1="417.25" y1="595.2" x2="417.25" y2="616.645" stroke="#231f20" stroke-width="1.0"/>
<line x1="414.05" y1="595.2" x2="420.45" y2="595.2" stroke="#231f20" stroke-width="1.1"/>
<line x1="417.25" y1="631.4" x2="417.25" y2="637" stroke="#231f20" stroke-width="0.9"/>
<line x1="447.55" y1="527.4" x2="447.55" y2="531.9" stroke="#231f20" stroke-width="1.0"/>
<line x1="444.35" y1="527.4" x2="450.75" y2="527.4" stroke="#231f20" stroke-width="1.1"/>
<line x1="447.55" y1="549" x2="447.55" y2="553.8340000000001" stroke="#231f20" stroke-width="1.0"/>
<line x1="444.35" y1="549" x2="450.75" y2="549" stroke="#231f20" stroke-width="1.1"/>
<line x1="447.55" y1="631.4" x2="447.55" y2="637" stroke="#231f20" stroke-width="0.9"/>
<line x1="465.55" y1="523.7" x2="465.55" y2="531.9" stroke="#231f20" stroke-width="1.0"/>
<line x1="462.35" y1="523.7" x2="468.75" y2="523.7" stroke="#231f20" stroke-width="1.1"/>
<line x1="465.55" y1="545.6" x2="465.55" y2="554.3325" stroke="#231f20" stroke-width="1.0"/>
<line x1="462.35" y1="545.6" x2="468.75" y2="545.6" stroke="#231f20" stroke-width="1.1"/>
<line x1="465.55" y1="631.4" x2="465.55" y2="637" stroke="#231f20" stroke-width="0.9"/>
<polyline points="302.8,483 302.8,478.8 465.5,478.8 465.5,483" fill="none" stroke="#231f20" stroke-width="1.0"/>
<text x="386.6" y="474.8" font-size="6.5" text-anchor="middle" textLength="6.5" lengthAdjust="spacingAndGlyphs" fill="#231f20">ns</text>
<polyline points="302.8,506.3 302.8,501.8 417.1,501.8 417.1,506.3" fill="none" stroke="#231f20" stroke-width="1.0"/>
<text x="360.3" y="499.3" font-size="7" text-anchor="middle" textLength="34.7" lengthAdjust="spacingAndGlyphs" fill="#231f20">p &lt; 0.0001</text>
<polyline points="417.1,495.5 417.1,491.5 465.5,491.5 465.5,495.5" fill="none" stroke="#231f20" stroke-width="1.0"/>
<text x="441.5" y="489.2" font-size="7" text-anchor="middle" textLength="33.5" lengthAdjust="spacingAndGlyphs" fill="#231f20">p = 0.0007</text>
<rect x="475.9" y="507.5" width="10.9" height="7.3" fill="#1a5088"/>
<text x="491" y="513.7" font-size="7.2" textLength="14.8" lengthAdjust="spacingAndGlyphs" fill="#231f20">High</text>
<rect x="475.9" y="521.3" width="10.9" height="7.3" fill="#8a7fc0"/>
<text x="491" y="527.4" font-size="7.2" textLength="21.3" lengthAdjust="spacingAndGlyphs" fill="#231f20">Normal</text>
<text x="285.2" y="646.3" font-size="7.3" text-anchor="end" textLength="38.1" lengthAdjust="spacingAndGlyphs" fill="#231f20">GENOTYPE</text>
<text x="285.5" y="655.8" font-size="7.3" text-anchor="end" textLength="12.9" lengthAdjust="spacingAndGlyphs" fill="#231f20">PHZ</text>
<text x="285.5" y="664.8" font-size="7.3" text-anchor="end" textLength="9" lengthAdjust="spacingAndGlyphs" fill="#231f20">IMI</text>
<text x="302.85" y="646.5" font-size="7.6" text-anchor="middle" textLength="11.6" lengthAdjust="spacingAndGlyphs" fill="#231f20">+/+</text>
<text x="302.85" y="654.5" font-size="7.3" text-anchor="middle" fill="#231f20">-</text>
<text x="302.85" y="663.8" font-size="7.3" text-anchor="middle" fill="#231f20">-</text>
<text x="320.95" y="646.5" font-size="7.6" text-anchor="middle" textLength="9" lengthAdjust="spacingAndGlyphs" fill="#231f20">+/-</text>
<text x="320.95" y="654.5" font-size="7.3" text-anchor="middle" fill="#231f20">-</text>
<text x="320.95" y="663.8" font-size="7.3" text-anchor="middle" fill="#231f20">-</text>
<text x="350.9" y="646.5" font-size="7.6" text-anchor="middle" textLength="11.6" lengthAdjust="spacingAndGlyphs" fill="#231f20">+/+</text>
<text x="350.9" y="654.5" font-size="7.3" text-anchor="middle" fill="#231f20">-</text>
<text x="350.9" y="665.0999999999999" font-size="8.2" text-anchor="middle" fill="#231f20">+</text>
<text x="369.1" y="646.5" font-size="7.6" text-anchor="middle" textLength="9" lengthAdjust="spacingAndGlyphs" fill="#231f20">+/-</text>
<text x="369.1" y="654.5" font-size="7.3" text-anchor="middle" fill="#231f20">-</text>
<text x="369.1" y="665.0999999999999" font-size="8.2" text-anchor="middle" fill="#231f20">+</text>
<text x="399.25" y="646.5" font-size="7.6" text-anchor="middle" textLength="11.6" lengthAdjust="spacingAndGlyphs" fill="#231f20">+/+</text>
<text x="399.25" y="655.8" font-size="8.2" text-anchor="middle" fill="#231f20">+</text>
<text x="399.25" y="663.8" font-size="7.3" text-anchor="middle" fill="#231f20">-</text>
<text x="417.25" y="646.5" font-size="7.6" text-anchor="middle" textLength="9" lengthAdjust="spacingAndGlyphs" fill="#231f20">+/-</text>
<text x="417.25" y="655.8" font-size="8.2" text-anchor="middle" fill="#231f20">+</text>
<text x="417.25" y="663.8" font-size="7.3" text-anchor="middle" fill="#231f20">-</text>
<text x="447.55" y="646.5" font-size="7.6" text-anchor="middle" textLength="11.6" lengthAdjust="spacingAndGlyphs" fill="#231f20">+/+</text>
<text x="447.55" y="655.8" font-size="8.2" text-anchor="middle" fill="#231f20">+</text>
<text x="447.55" y="665.0999999999999" font-size="8.2" text-anchor="middle" fill="#231f20">+</text>
<text x="465.55" y="646.5" font-size="7.6" text-anchor="middle" textLength="9" lengthAdjust="spacingAndGlyphs" fill="#231f20">+/-</text>
<text x="465.55" y="655.8" font-size="8.2" text-anchor="middle" fill="#231f20">+</text>
<text x="465.55" y="665.0999999999999" font-size="8.2" text-anchor="middle" fill="#231f20">+</text>
<rect x="0.5" y="0.5" width="518.8" height="676.8" fill="none" stroke="#161616" stroke-width="1.1"/>
</svg>
</body></html>
